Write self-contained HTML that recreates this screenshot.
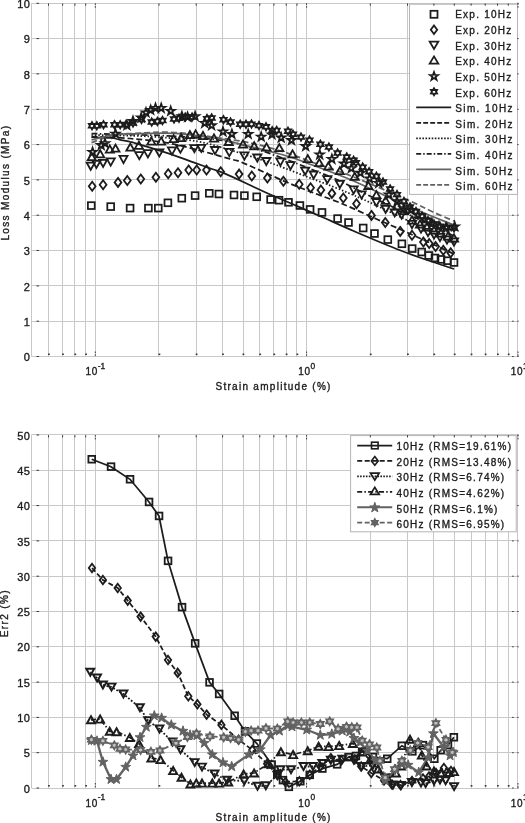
<!DOCTYPE html>
<html lang="en">
<head>
<meta charset="utf-8">
<title>Loss modulus and error versus strain amplitude</title>
<style>
html,body{margin:0;padding:0;background:#fff;}
body{width:525px;height:823px;overflow:hidden;}
svg{display:block;}
.b{filter:blur(0.4px);}
.t{font-family:"Liberation Sans",sans-serif;font-size:10px;fill:#1c1c1c;stroke:#1c1c1c;stroke-width:0.35px;letter-spacing:0.55px;}
.l{letter-spacing:1.24px;}
.m{letter-spacing:1.4px;}
.k{font-size:11px;letter-spacing:0.4px;}
.x{letter-spacing:1.28px;}
.y{letter-spacing:1.35px;}
.s{font-size:8.4px;letter-spacing:0;}
</style>
</head>
<body>
<svg width="525" height="823" viewBox="0 0 525 823">
<rect width="525" height="823" fill="#fff"/>
<g class="b">
</g><g stroke="#c8c8c8" stroke-width="1" fill="none"><line x1="31.5" y1="3.3" x2="31.5" y2="356.5"/><line x1="48.5" y1="3.3" x2="48.5" y2="356.5"/><line x1="62.5" y1="3.3" x2="62.5" y2="356.5"/><line x1="74.5" y1="3.3" x2="74.5" y2="356.5"/><line x1="85.5" y1="3.3" x2="85.5" y2="356.5"/><line x1="95.5" y1="3.3" x2="95.5" y2="356.5"/><line x1="158.5" y1="3.3" x2="158.5" y2="356.5"/><line x1="196.5" y1="3.3" x2="196.5" y2="356.5"/><line x1="222.5" y1="3.3" x2="222.5" y2="356.5"/><line x1="243.5" y1="3.3" x2="243.5" y2="356.5"/><line x1="259.5" y1="3.3" x2="259.5" y2="356.5"/><line x1="273.5" y1="3.3" x2="273.5" y2="356.5"/><line x1="286.5" y1="3.3" x2="286.5" y2="356.5"/><line x1="296.5" y1="3.3" x2="296.5" y2="356.5"/><line x1="306.5" y1="3.3" x2="306.5" y2="356.5"/><line x1="370.5" y1="3.3" x2="370.5" y2="356.5"/><line x1="407.5" y1="3.3" x2="407.5" y2="356.5"/><line x1="433.5" y1="3.3" x2="433.5" y2="356.5"/><line x1="454.5" y1="3.3" x2="454.5" y2="356.5"/><line x1="471.5" y1="3.3" x2="471.5" y2="356.5"/><line x1="485.5" y1="3.3" x2="485.5" y2="356.5"/><line x1="497.5" y1="3.3" x2="497.5" y2="356.5"/><line x1="508.5" y1="3.3" x2="508.5" y2="356.5"/><line x1="517.5" y1="3.3" x2="517.5" y2="356.5"/><line x1="31.5" y1="356.5" x2="517.7" y2="356.5"/><line x1="31.5" y1="321.5" x2="517.7" y2="321.5"/><line x1="31.5" y1="285.5" x2="517.7" y2="285.5"/><line x1="31.5" y1="250.5" x2="517.7" y2="250.5"/><line x1="31.5" y1="215.5" x2="517.7" y2="215.5"/><line x1="31.5" y1="179.5" x2="517.7" y2="179.5"/><line x1="31.5" y1="144.5" x2="517.7" y2="144.5"/><line x1="31.5" y1="109.5" x2="517.7" y2="109.5"/><line x1="31.5" y1="73.5" x2="517.7" y2="73.5"/><line x1="31.5" y1="38.5" x2="517.7" y2="38.5"/><line x1="31.5" y1="3.5" x2="517.7" y2="3.5"/></g><g class="b">
<text x="30.2" y="361.1" text-anchor="end" class="t k">0</text>
<text x="30.2" y="325.8" text-anchor="end" class="t k">1</text>
<text x="30.2" y="290.5" text-anchor="end" class="t k">2</text>
<text x="30.2" y="255.1" text-anchor="end" class="t k">3</text>
<text x="30.2" y="219.8" text-anchor="end" class="t k">4</text>
<text x="30.2" y="184.5" text-anchor="end" class="t k">5</text>
<text x="30.2" y="149.2" text-anchor="end" class="t k">6</text>
<text x="30.2" y="113.9" text-anchor="end" class="t k">7</text>
<text x="30.2" y="78.5" text-anchor="end" class="t k">8</text>
<text x="30.2" y="43.2" text-anchor="end" class="t k">9</text>
<text x="30.2" y="8" text-anchor="end" class="t k">10</text>
<text x="85.6" y="375" class="t">10<tspan dy="-6.2" class="s">-1</tspan></text>
<text x="298.3" y="375" class="t">10<tspan dy="-6.2" class="s">0</tspan></text>
<text x="510.8" y="375" class="t">10<tspan dy="-6.2" class="s">1</tspan></text>
<text x="273.6" y="389.8" text-anchor="middle" class="t x">Strain amplitude (%)</text>
<text transform="translate(8.6,182.6) rotate(-90)" text-anchor="middle" class="t y">Loss Modulus (MPa)</text>
<g fill="none" stroke-width="1.75">
<path d="M91.5 137.3 C94.8 137.4 106.7 137.6 111.3 138 C115.9 138.4 116.1 138.9 119.3 139.6 C122.5 140.3 128.1 141.4 130.7 142 C133.3 142.6 130.2 141.7 135 143.1 C139.8 144.5 151.9 148.2 159.8 150.7 C167.7 153.2 174 155.3 182.6 158.3 C191.2 161.3 204.1 166.2 211.2 168.8 C218.3 171.4 218.6 170.9 225 173.6 C231.4 176.3 241.9 181.3 249.8 185 C257.7 188.7 264 191.7 272.6 195.5 C281.2 199.3 292.5 204.1 301.2 207.9 C309.9 211.7 316.3 214.5 325 218.3 C333.7 222.2 341.1 225.7 353.6 231 C366.1 236.3 387.3 245.3 400 250.3 C412.7 255.3 421 257.9 430 261 C439 264.1 450 267.7 454 269" stroke="#1c1c1c"/>
<path d="M91.5 136.6 C97.9 136.9 116.1 137.2 130 138.5 C143.9 139.8 158.3 141 175 144.4 C191.7 147.8 218.6 155.8 230 158.9 C241.4 162 234.4 159.3 243.6 163.1 C252.8 166.9 273.9 176.8 285 181.5 C296.1 186.2 300.5 187.8 310 191.5 C319.5 195.2 331 199.1 342.1 203.7 C353.2 208.3 365.9 214.4 376.4 219 C386.9 223.6 392.1 225.7 405 231.5 C417.9 237.3 445.8 250.2 454 254" stroke="#1c1c1c" stroke-dasharray="6 3"/>
<path d="M91.5 135 C101.2 135.2 132.3 135.4 150 136.5 C167.7 137.6 184.6 139.2 197.9 141.5 C211.2 143.8 218.6 146.7 230 150 C241.4 153.3 257.2 158.4 266.4 161.5 C275.6 164.6 277.7 165.6 285 168.3 C292.3 171 301.2 174.5 310 177.9 C318.8 181.3 326.5 183.9 337.6 188.5 C348.7 193.1 357 196.4 376.4 205.5 C395.8 214.6 441.1 236.8 454 243" stroke="#1c1c1c" stroke-dasharray="1.5 2"/>
<path d="M91.5 133.6 C102.9 133.9 139.2 134.5 160 135.5 C180.8 136.5 201 137.6 216 139.5 C231 141.4 238.5 143.8 250 147 C261.5 150.2 275 155.4 285 159 C295 162.6 300.8 165.1 310 168.8 C319.2 172.5 329 176 340 181 C351 186 357 189.8 376 199 C395 208.2 441 229.8 454 236" stroke="#1c1c1c" stroke-dasharray="6 2.5 1.5 2.5"/>
<path d="M91.5 140 C95.1 139.1 106.2 135.8 113 134.8 C119.8 133.8 121.7 134 132 133.8 C142.3 133.6 160.2 132.5 175 133.4 C189.8 134.3 211.5 137.8 220.7 139.1 C229.9 140.4 219.3 138.8 230 141.5 C240.7 144.2 271.7 151.7 285 155.5 C298.3 159.3 298.6 159.9 310 164.2 C321.4 168.4 337.8 174.2 353.6 181 C369.4 187.8 388.1 197.6 405 205 C421.9 212.4 446.6 222.1 454.9 225.5" stroke="#626262"/>
<path d="M91.5 142.6 C95.1 141.4 106.2 136.7 113 135.2 C119.8 133.7 121.7 133.9 132 133.5 C142.3 133.1 158.7 131.5 175 132.5 C191.3 133.5 216.7 137.6 230 139.5 C243.3 141.4 245.8 141.9 255 144 C264.2 146.1 275 149.1 285 152.3 C295 155.5 304.2 159.3 315 163.2 C325.8 167.1 334.6 169.4 350 175.5 C365.4 181.6 393.9 193.9 407.7 200 C421.5 206.1 425 208.4 432.9 212 C440.8 215.6 451.2 219.8 454.9 221.4" stroke="#626262" stroke-dasharray="6 3"/>
</g>
<rect x="87.9" y="202.2" width="6.8" height="6.8" fill="none" stroke="#1c1c1c" stroke-width="1.75"/>
<rect x="107.3" y="203.2" width="6.8" height="6.8" fill="none" stroke="#1c1c1c" stroke-width="1.75"/>
<rect x="126.7" y="204.7" width="6.8" height="6.8" fill="none" stroke="#1c1c1c" stroke-width="1.75"/>
<rect x="145" y="204.7" width="6.8" height="6.8" fill="none" stroke="#1c1c1c" stroke-width="1.75"/>
<rect x="154.9" y="204.7" width="6.8" height="6.8" fill="none" stroke="#1c1c1c" stroke-width="1.75"/>
<rect x="164.5" y="199.4" width="6.8" height="6.8" fill="none" stroke="#1c1c1c" stroke-width="1.75"/>
<rect x="178.4" y="194.8" width="6.8" height="6.8" fill="none" stroke="#1c1c1c" stroke-width="1.75"/>
<rect x="191.7" y="192.2" width="6.8" height="6.8" fill="none" stroke="#1c1c1c" stroke-width="1.75"/>
<rect x="205.9" y="189.9" width="6.8" height="6.8" fill="none" stroke="#1c1c1c" stroke-width="1.75"/>
<rect x="215.5" y="190.6" width="6.8" height="6.8" fill="none" stroke="#1c1c1c" stroke-width="1.75"/>
<rect x="230.6" y="191.6" width="6.8" height="6.8" fill="none" stroke="#1c1c1c" stroke-width="1.75"/>
<rect x="241" y="192.2" width="6.8" height="6.8" fill="none" stroke="#1c1c1c" stroke-width="1.75"/>
<rect x="253.3" y="193.4" width="6.8" height="6.8" fill="none" stroke="#1c1c1c" stroke-width="1.75"/>
<rect x="267.2" y="196.1" width="6.8" height="6.8" fill="none" stroke="#1c1c1c" stroke-width="1.75"/>
<rect x="275.6" y="196.8" width="6.8" height="6.8" fill="none" stroke="#1c1c1c" stroke-width="1.75"/>
<rect x="285.1" y="198.9" width="6.8" height="6.8" fill="none" stroke="#1c1c1c" stroke-width="1.75"/>
<rect x="296.5" y="202.1" width="6.8" height="6.8" fill="none" stroke="#1c1c1c" stroke-width="1.75"/>
<rect x="306.7" y="206" width="6.8" height="6.8" fill="none" stroke="#1c1c1c" stroke-width="1.75"/>
<rect x="318.6" y="209" width="6.8" height="6.8" fill="none" stroke="#1c1c1c" stroke-width="1.75"/>
<rect x="334.2" y="215.2" width="6.8" height="6.8" fill="none" stroke="#1c1c1c" stroke-width="1.75"/>
<rect x="345.1" y="219.1" width="6.8" height="6.8" fill="none" stroke="#1c1c1c" stroke-width="1.75"/>
<rect x="359.8" y="224.6" width="6.8" height="6.8" fill="none" stroke="#1c1c1c" stroke-width="1.75"/>
<rect x="371.1" y="230.1" width="6.8" height="6.8" fill="none" stroke="#1c1c1c" stroke-width="1.75"/>
<rect x="384.4" y="236.2" width="6.8" height="6.8" fill="none" stroke="#1c1c1c" stroke-width="1.75"/>
<rect x="398.5" y="240.4" width="6.8" height="6.8" fill="none" stroke="#1c1c1c" stroke-width="1.75"/>
<rect x="408.8" y="245.2" width="6.8" height="6.8" fill="none" stroke="#1c1c1c" stroke-width="1.75"/>
<rect x="418.3" y="248.6" width="6.8" height="6.8" fill="none" stroke="#1c1c1c" stroke-width="1.75"/>
<rect x="425.3" y="252.1" width="6.8" height="6.8" fill="none" stroke="#1c1c1c" stroke-width="1.75"/>
<rect x="431.6" y="254.6" width="6.8" height="6.8" fill="none" stroke="#1c1c1c" stroke-width="1.75"/>
<rect x="437.6" y="256" width="6.8" height="6.8" fill="none" stroke="#1c1c1c" stroke-width="1.75"/>
<rect x="444" y="257.3" width="6.8" height="6.8" fill="none" stroke="#1c1c1c" stroke-width="1.75"/>
<rect x="450.6" y="259.1" width="6.8" height="6.8" fill="none" stroke="#1c1c1c" stroke-width="1.75"/>
<polygon points="92.2,181.7 95.6,186.2 92.2,190.7 88.8,186.2" fill="none" stroke="#1c1c1c" stroke-width="1.8" stroke-linejoin="miter" stroke-miterlimit="6"/>
<polygon points="103.1,180.2 106.5,184.7 103.1,189.2 99.7,184.7" fill="none" stroke="#1c1c1c" stroke-width="1.8" stroke-linejoin="miter" stroke-miterlimit="6"/>
<polygon points="118,177.9 121.4,182.4 118,186.9 114.6,182.4" fill="none" stroke="#1c1c1c" stroke-width="1.8" stroke-linejoin="miter" stroke-miterlimit="6"/>
<polygon points="127.3,176 130.7,180.5 127.3,185 123.9,180.5" fill="none" stroke="#1c1c1c" stroke-width="1.8" stroke-linejoin="miter" stroke-miterlimit="6"/>
<polygon points="140.8,174.5 144.2,179 140.8,183.5 137.4,179" fill="none" stroke="#1c1c1c" stroke-width="1.8" stroke-linejoin="miter" stroke-miterlimit="6"/>
<polygon points="155.9,172.7 159.3,177.2 155.9,181.7 152.5,177.2" fill="none" stroke="#1c1c1c" stroke-width="1.8" stroke-linejoin="miter" stroke-miterlimit="6"/>
<polygon points="168.2,169.3 171.6,173.8 168.2,178.3 164.8,173.8" fill="none" stroke="#1c1c1c" stroke-width="1.8" stroke-linejoin="miter" stroke-miterlimit="6"/>
<polygon points="178,168.3 181.4,172.8 178,177.3 174.6,172.8" fill="none" stroke="#1c1c1c" stroke-width="1.8" stroke-linejoin="miter" stroke-miterlimit="6"/>
<polygon points="188.7,165.5 192.1,170 188.7,174.5 185.3,170" fill="none" stroke="#1c1c1c" stroke-width="1.8" stroke-linejoin="miter" stroke-miterlimit="6"/>
<polygon points="196.7,165.5 200.1,170 196.7,174.5 193.3,170" fill="none" stroke="#1c1c1c" stroke-width="1.8" stroke-linejoin="miter" stroke-miterlimit="6"/>
<polygon points="206.5,165.5 209.9,170 206.5,174.5 203.1,170" fill="none" stroke="#1c1c1c" stroke-width="1.8" stroke-linejoin="miter" stroke-miterlimit="6"/>
<polygon points="220.7,167.3 224.1,171.8 220.7,176.3 217.3,171.8" fill="none" stroke="#1c1c1c" stroke-width="1.8" stroke-linejoin="miter" stroke-miterlimit="6"/>
<polygon points="239.1,169.6 242.5,174.1 239.1,178.6 235.7,174.1" fill="none" stroke="#1c1c1c" stroke-width="1.8" stroke-linejoin="miter" stroke-miterlimit="6"/>
<polygon points="251.8,171.5 255.2,176 251.8,180.5 248.4,176" fill="none" stroke="#1c1c1c" stroke-width="1.8" stroke-linejoin="miter" stroke-miterlimit="6"/>
<polygon points="267.4,173.5 270.8,178 267.4,182.5 264,178" fill="none" stroke="#1c1c1c" stroke-width="1.8" stroke-linejoin="miter" stroke-miterlimit="6"/>
<polygon points="283.4,176.7 286.8,181.2 283.4,185.7 280,181.2" fill="none" stroke="#1c1c1c" stroke-width="1.8" stroke-linejoin="miter" stroke-miterlimit="6"/>
<polygon points="299.2,179.7 302.6,184.2 299.2,188.7 295.8,184.2" fill="none" stroke="#1c1c1c" stroke-width="1.8" stroke-linejoin="miter" stroke-miterlimit="6"/>
<polygon points="310.6,183.2 314,187.7 310.6,192.2 307.2,187.7" fill="none" stroke="#1c1c1c" stroke-width="1.8" stroke-linejoin="miter" stroke-miterlimit="6"/>
<polygon points="320.9,185.5 324.3,190 320.9,194.5 317.5,190" fill="none" stroke="#1c1c1c" stroke-width="1.8" stroke-linejoin="miter" stroke-miterlimit="6"/>
<polygon points="331.9,188.9 335.3,193.4 331.9,197.9 328.5,193.4" fill="none" stroke="#1c1c1c" stroke-width="1.8" stroke-linejoin="miter" stroke-miterlimit="6"/>
<polygon points="343.3,193.5 346.7,198 343.3,202.5 339.9,198" fill="none" stroke="#1c1c1c" stroke-width="1.8" stroke-linejoin="miter" stroke-miterlimit="6"/>
<polygon points="356.5,199.2 359.9,203.7 356.5,208.2 353.1,203.7" fill="none" stroke="#1c1c1c" stroke-width="1.8" stroke-linejoin="miter" stroke-miterlimit="6"/>
<polygon points="371.5,210.9 374.9,215.4 371.5,219.9 368.1,215.4" fill="none" stroke="#1c1c1c" stroke-width="1.8" stroke-linejoin="miter" stroke-miterlimit="6"/>
<polygon points="385.3,218 388.7,222.5 385.3,227 381.9,222.5" fill="none" stroke="#1c1c1c" stroke-width="1.8" stroke-linejoin="miter" stroke-miterlimit="6"/>
<polygon points="400.2,226.9 403.6,231.4 400.2,235.9 396.8,231.4" fill="none" stroke="#1c1c1c" stroke-width="1.8" stroke-linejoin="miter" stroke-miterlimit="6"/>
<polygon points="412,230.8 415.4,235.3 412,239.8 408.6,235.3" fill="none" stroke="#1c1c1c" stroke-width="1.8" stroke-linejoin="miter" stroke-miterlimit="6"/>
<polygon points="423.4,237.6 426.8,242.1 423.4,246.6 420,242.1" fill="none" stroke="#1c1c1c" stroke-width="1.8" stroke-linejoin="miter" stroke-miterlimit="6"/>
<polygon points="429.2,239 432.6,243.5 429.2,248 425.8,243.5" fill="none" stroke="#1c1c1c" stroke-width="1.8" stroke-linejoin="miter" stroke-miterlimit="6"/>
<polygon points="435.6,242.1 439,246.6 435.6,251.1 432.2,246.6" fill="none" stroke="#1c1c1c" stroke-width="1.8" stroke-linejoin="miter" stroke-miterlimit="6"/>
<polygon points="443.3,245.7 446.7,250.2 443.3,254.7 439.9,250.2" fill="none" stroke="#1c1c1c" stroke-width="1.8" stroke-linejoin="miter" stroke-miterlimit="6"/>
<polygon points="450.7,248.2 454.1,252.7 450.7,257.2 447.3,252.7" fill="none" stroke="#1c1c1c" stroke-width="1.8" stroke-linejoin="miter" stroke-miterlimit="6"/>
<polygon points="86.7,162.6 94.8,162.6 90.7,169.8" fill="none" stroke="#1c1c1c" stroke-width="1.8" stroke-linejoin="miter" stroke-miterlimit="6"/>
<polygon points="92.4,160.8 100.5,160.8 96.4,167.9" fill="none" stroke="#1c1c1c" stroke-width="1.8" stroke-linejoin="miter" stroke-miterlimit="6"/>
<polygon points="99,159.8 107.1,159.8 103.1,166.9" fill="none" stroke="#1c1c1c" stroke-width="1.8" stroke-linejoin="miter" stroke-miterlimit="6"/>
<polygon points="106.7,158.4 114.8,158.4 110.7,165.6" fill="none" stroke="#1c1c1c" stroke-width="1.8" stroke-linejoin="miter" stroke-miterlimit="6"/>
<polygon points="119.5,155.9 127.5,155.9 123.5,163.1" fill="none" stroke="#1c1c1c" stroke-width="1.8" stroke-linejoin="miter" stroke-miterlimit="6"/>
<polygon points="135.2,152.1 143.4,152.1 139.3,159.2" fill="none" stroke="#1c1c1c" stroke-width="1.8" stroke-linejoin="miter" stroke-miterlimit="6"/>
<polygon points="143.8,150.2 152,150.2 147.9,157.4" fill="none" stroke="#1c1c1c" stroke-width="1.8" stroke-linejoin="miter" stroke-miterlimit="6"/>
<polygon points="155.2,149.3 163.4,149.3 159.3,156.5" fill="none" stroke="#1c1c1c" stroke-width="1.8" stroke-linejoin="miter" stroke-miterlimit="6"/>
<polygon points="167.9,147.4 176.1,147.4 172,154.6" fill="none" stroke="#1c1c1c" stroke-width="1.8" stroke-linejoin="miter" stroke-miterlimit="6"/>
<polygon points="176.3,145.6 184.5,145.6 180.4,152.8" fill="none" stroke="#1c1c1c" stroke-width="1.8" stroke-linejoin="miter" stroke-miterlimit="6"/>
<polygon points="190.3,145.1 198.5,145.1 194.4,152.2" fill="none" stroke="#1c1c1c" stroke-width="1.8" stroke-linejoin="miter" stroke-miterlimit="6"/>
<polygon points="197.2,144.8 205.4,144.8 201.3,151.9" fill="none" stroke="#1c1c1c" stroke-width="1.8" stroke-linejoin="miter" stroke-miterlimit="6"/>
<polygon points="210.9,147 219.1,147 215,154.2" fill="none" stroke="#1c1c1c" stroke-width="1.8" stroke-linejoin="miter" stroke-miterlimit="6"/>
<polygon points="225.2,148.9 233.4,148.9 229.3,156.1" fill="none" stroke="#1c1c1c" stroke-width="1.8" stroke-linejoin="miter" stroke-miterlimit="6"/>
<polygon points="240.3,152.4 248.5,152.4 244.4,159.6" fill="none" stroke="#1c1c1c" stroke-width="1.8" stroke-linejoin="miter" stroke-miterlimit="6"/>
<polygon points="253.2,154.5 261.4,154.5 257.3,161.7" fill="none" stroke="#1c1c1c" stroke-width="1.8" stroke-linejoin="miter" stroke-miterlimit="6"/>
<polygon points="262.2,158 270.4,158 266.3,165.2" fill="none" stroke="#1c1c1c" stroke-width="1.8" stroke-linejoin="miter" stroke-miterlimit="6"/>
<polygon points="276.3,158.4 284.4,158.4 280.4,165.6" fill="none" stroke="#1c1c1c" stroke-width="1.8" stroke-linejoin="miter" stroke-miterlimit="6"/>
<polygon points="286.4,162.2 294.6,162.2 290.5,169.4" fill="none" stroke="#1c1c1c" stroke-width="1.8" stroke-linejoin="miter" stroke-miterlimit="6"/>
<polygon points="301.1,167.6 309.2,167.6 305.2,174.8" fill="none" stroke="#1c1c1c" stroke-width="1.8" stroke-linejoin="miter" stroke-miterlimit="6"/>
<polygon points="309.6,171.5 317.7,171.5 313.6,178.7" fill="none" stroke="#1c1c1c" stroke-width="1.8" stroke-linejoin="miter" stroke-miterlimit="6"/>
<polygon points="323.2,176.1 331.4,176.1 327.3,183.2" fill="none" stroke="#1c1c1c" stroke-width="1.8" stroke-linejoin="miter" stroke-miterlimit="6"/>
<polygon points="335.8,180.8 343.9,180.8 339.9,187.9" fill="none" stroke="#1c1c1c" stroke-width="1.8" stroke-linejoin="miter" stroke-miterlimit="6"/>
<polygon points="349.6,186.4 357.7,186.4 353.6,193.6" fill="none" stroke="#1c1c1c" stroke-width="1.8" stroke-linejoin="miter" stroke-miterlimit="6"/>
<polygon points="357.6,191.4 365.7,191.4 361.6,198.6" fill="none" stroke="#1c1c1c" stroke-width="1.8" stroke-linejoin="miter" stroke-miterlimit="6"/>
<polygon points="372.3,199 380.4,199 376.4,206.2" fill="none" stroke="#1c1c1c" stroke-width="1.8" stroke-linejoin="miter" stroke-miterlimit="6"/>
<polygon points="381.6,205.8 389.7,205.8 385.6,213" fill="none" stroke="#1c1c1c" stroke-width="1.8" stroke-linejoin="miter" stroke-miterlimit="6"/>
<polygon points="390.6,209.3 398.8,209.3 394.7,216.5" fill="none" stroke="#1c1c1c" stroke-width="1.8" stroke-linejoin="miter" stroke-miterlimit="6"/>
<polygon points="397.6,211.5 405.7,211.5 401.6,218.7" fill="none" stroke="#1c1c1c" stroke-width="1.8" stroke-linejoin="miter" stroke-miterlimit="6"/>
<polygon points="407.9,220.9 416.1,220.9 412,228.1" fill="none" stroke="#1c1c1c" stroke-width="1.8" stroke-linejoin="miter" stroke-miterlimit="6"/>
<polygon points="416.9,225.4 425.1,225.4 421,232.6" fill="none" stroke="#1c1c1c" stroke-width="1.8" stroke-linejoin="miter" stroke-miterlimit="6"/>
<polygon points="423.9,228.9 432.1,228.9 428,236.1" fill="none" stroke="#1c1c1c" stroke-width="1.8" stroke-linejoin="miter" stroke-miterlimit="6"/>
<polygon points="429.9,231.4 438.1,231.4 434,238.6" fill="none" stroke="#1c1c1c" stroke-width="1.8" stroke-linejoin="miter" stroke-miterlimit="6"/>
<polygon points="435.9,233.9 444.1,233.9 440,241.1" fill="none" stroke="#1c1c1c" stroke-width="1.8" stroke-linejoin="miter" stroke-miterlimit="6"/>
<polygon points="442.9,236.4 451.1,236.4 447,243.6" fill="none" stroke="#1c1c1c" stroke-width="1.8" stroke-linejoin="miter" stroke-miterlimit="6"/>
<polygon points="449.9,238.4 458.1,238.4 454,245.6" fill="none" stroke="#1c1c1c" stroke-width="1.8" stroke-linejoin="miter" stroke-miterlimit="6"/>
<polygon points="87.7,160.2 95.8,160.2 91.7,153.1" fill="none" stroke="#1c1c1c" stroke-width="1.8" stroke-linejoin="miter" stroke-miterlimit="6"/>
<polygon points="96.2,157.4 104.2,157.4 100.2,150.2" fill="none" stroke="#1c1c1c" stroke-width="1.8" stroke-linejoin="miter" stroke-miterlimit="6"/>
<polygon points="105.8,152.6 113.8,152.6 109.8,145.4" fill="none" stroke="#1c1c1c" stroke-width="1.8" stroke-linejoin="miter" stroke-miterlimit="6"/>
<polygon points="111.5,151.7 119.5,151.7 115.5,144.5" fill="none" stroke="#1c1c1c" stroke-width="1.8" stroke-linejoin="miter" stroke-miterlimit="6"/>
<polygon points="126.3,150.7 134.4,150.7 130.3,143.5" fill="none" stroke="#1c1c1c" stroke-width="1.8" stroke-linejoin="miter" stroke-miterlimit="6"/>
<polygon points="134.8,148.8 143,148.8 138.9,141.6" fill="none" stroke="#1c1c1c" stroke-width="1.8" stroke-linejoin="miter" stroke-miterlimit="6"/>
<polygon points="147.2,144.6 155.4,144.6 151.3,137.4" fill="none" stroke="#1c1c1c" stroke-width="1.8" stroke-linejoin="miter" stroke-miterlimit="6"/>
<polygon points="157.1,144.6 165.2,144.6 161.2,137.4" fill="none" stroke="#1c1c1c" stroke-width="1.8" stroke-linejoin="miter" stroke-miterlimit="6"/>
<polygon points="169.5,142.2 177.7,142.2 173.6,135" fill="none" stroke="#1c1c1c" stroke-width="1.8" stroke-linejoin="miter" stroke-miterlimit="6"/>
<polygon points="177.1,141.2 185.2,141.2 181.2,134" fill="none" stroke="#1c1c1c" stroke-width="1.8" stroke-linejoin="miter" stroke-miterlimit="6"/>
<polygon points="185.8,138.2 194,138.2 189.9,131" fill="none" stroke="#1c1c1c" stroke-width="1.8" stroke-linejoin="miter" stroke-miterlimit="6"/>
<polygon points="191.5,137.5 199.7,137.5 195.6,130.3" fill="none" stroke="#1c1c1c" stroke-width="1.8" stroke-linejoin="miter" stroke-miterlimit="6"/>
<polygon points="198.9,139.1 207.1,139.1 203,131.9" fill="none" stroke="#1c1c1c" stroke-width="1.8" stroke-linejoin="miter" stroke-miterlimit="6"/>
<polygon points="209.9,141.6 218.1,141.6 214,134.4" fill="none" stroke="#1c1c1c" stroke-width="1.8" stroke-linejoin="miter" stroke-miterlimit="6"/>
<polygon points="224.6,145 232.8,145 228.7,137.8" fill="none" stroke="#1c1c1c" stroke-width="1.8" stroke-linejoin="miter" stroke-miterlimit="6"/>
<polygon points="238.9,147.6 247.1,147.6 243,140.4" fill="none" stroke="#1c1c1c" stroke-width="1.8" stroke-linejoin="miter" stroke-miterlimit="6"/>
<polygon points="250.1,149.4 258.2,149.4 254.2,142.2" fill="none" stroke="#1c1c1c" stroke-width="1.8" stroke-linejoin="miter" stroke-miterlimit="6"/>
<polygon points="262.4,150.6 270.6,150.6 266.5,143.4" fill="none" stroke="#1c1c1c" stroke-width="1.8" stroke-linejoin="miter" stroke-miterlimit="6"/>
<polygon points="275.2,151.2 283.4,151.2 279.3,144.1" fill="none" stroke="#1c1c1c" stroke-width="1.8" stroke-linejoin="miter" stroke-miterlimit="6"/>
<polygon points="288.4,157.4 296.6,157.4 292.5,150.2" fill="none" stroke="#1c1c1c" stroke-width="1.8" stroke-linejoin="miter" stroke-miterlimit="6"/>
<polygon points="303.8,162.2 311.9,162.2 307.8,155.1" fill="none" stroke="#1c1c1c" stroke-width="1.8" stroke-linejoin="miter" stroke-miterlimit="6"/>
<polygon points="315.2,166.2 323.4,166.2 319.3,159" fill="none" stroke="#1c1c1c" stroke-width="1.8" stroke-linejoin="miter" stroke-miterlimit="6"/>
<polygon points="324.3,169.6 332.4,169.6 328.4,162.4" fill="none" stroke="#1c1c1c" stroke-width="1.8" stroke-linejoin="miter" stroke-miterlimit="6"/>
<polygon points="335.8,174.2 343.9,174.2 339.9,167" fill="none" stroke="#1c1c1c" stroke-width="1.8" stroke-linejoin="miter" stroke-miterlimit="6"/>
<polygon points="350.6,179.9 358.8,179.9 354.7,172.8" fill="none" stroke="#1c1c1c" stroke-width="1.8" stroke-linejoin="miter" stroke-miterlimit="6"/>
<polygon points="364.3,189 372.4,189 368.4,181.8" fill="none" stroke="#1c1c1c" stroke-width="1.8" stroke-linejoin="miter" stroke-miterlimit="6"/>
<polygon points="372.3,198.2 380.4,198.2 376.4,191" fill="none" stroke="#1c1c1c" stroke-width="1.8" stroke-linejoin="miter" stroke-miterlimit="6"/>
<polygon points="381.6,203.9 389.7,203.9 385.6,196.8" fill="none" stroke="#1c1c1c" stroke-width="1.8" stroke-linejoin="miter" stroke-miterlimit="6"/>
<polygon points="392.9,209.6 401.1,209.6 397,202.4" fill="none" stroke="#1c1c1c" stroke-width="1.8" stroke-linejoin="miter" stroke-miterlimit="6"/>
<polygon points="399.8,214.2 407.9,214.2 403.9,207" fill="none" stroke="#1c1c1c" stroke-width="1.8" stroke-linejoin="miter" stroke-miterlimit="6"/>
<polygon points="407.9,223.6 416.1,223.6 412,216.4" fill="none" stroke="#1c1c1c" stroke-width="1.8" stroke-linejoin="miter" stroke-miterlimit="6"/>
<polygon points="415.9,227.6 424.1,227.6 420,220.4" fill="none" stroke="#1c1c1c" stroke-width="1.8" stroke-linejoin="miter" stroke-miterlimit="6"/>
<polygon points="422.9,230.6 431.1,230.6 427,223.4" fill="none" stroke="#1c1c1c" stroke-width="1.8" stroke-linejoin="miter" stroke-miterlimit="6"/>
<polygon points="429.9,233.6 438.1,233.6 434,226.4" fill="none" stroke="#1c1c1c" stroke-width="1.8" stroke-linejoin="miter" stroke-miterlimit="6"/>
<polygon points="436.9,236.6 445.1,236.6 441,229.4" fill="none" stroke="#1c1c1c" stroke-width="1.8" stroke-linejoin="miter" stroke-miterlimit="6"/>
<polygon points="443.9,239.6 452.1,239.6 448,232.4" fill="none" stroke="#1c1c1c" stroke-width="1.8" stroke-linejoin="miter" stroke-miterlimit="6"/>
<polygon points="449.9,241.6 458.1,241.6 454,234.4" fill="none" stroke="#1c1c1c" stroke-width="1.8" stroke-linejoin="miter" stroke-miterlimit="6"/>
<polygon points="92.6,147.7 93.6,150.6 96.7,150.7 94.2,152.5 95.1,155.5 92.6,153.7 90.1,155.5 91,152.5 88.5,150.7 91.6,150.6" fill="none" stroke="#1c1c1c" stroke-width="1.8" stroke-linejoin="miter" stroke-miterlimit="6"/>
<polygon points="101.2,140.9 102.2,143.8 105.3,143.9 102.8,145.7 103.7,148.7 101.2,146.9 98.7,148.7 99.6,145.7 97.1,143.9 100.2,143.8" fill="none" stroke="#1c1c1c" stroke-width="1.8" stroke-linejoin="miter" stroke-miterlimit="6"/>
<polygon points="105,139 106,141.9 109.1,142 106.6,143.8 107.5,146.8 105,145 102.5,146.8 103.4,143.8 100.9,142 104,141.9" fill="none" stroke="#1c1c1c" stroke-width="1.8" stroke-linejoin="miter" stroke-miterlimit="6"/>
<polygon points="115.5,129.5 116.5,132.4 119.6,132.5 117.1,134.3 118,137.3 115.5,135.5 113,137.3 113.9,134.3 111.4,132.5 114.5,132.4" fill="none" stroke="#1c1c1c" stroke-width="1.8" stroke-linejoin="miter" stroke-miterlimit="6"/>
<polygon points="126.9,120.9 127.9,123.8 131,123.9 128.5,125.7 129.4,128.7 126.9,126.9 124.4,128.7 125.3,125.7 122.8,123.9 125.9,123.8" fill="none" stroke="#1c1c1c" stroke-width="1.8" stroke-linejoin="miter" stroke-miterlimit="6"/>
<polygon points="133,116.7 134,119.6 137.1,119.7 134.6,121.5 135.5,124.5 133,122.7 130.5,124.5 131.4,121.5 128.9,119.7 132,119.6" fill="none" stroke="#1c1c1c" stroke-width="1.8" stroke-linejoin="miter" stroke-miterlimit="6"/>
<polygon points="141.2,113.3 142.2,116.2 145.3,116.3 142.8,118.1 143.7,121.1 141.2,119.3 138.7,121.1 139.6,118.1 137.1,116.3 140.2,116.2" fill="none" stroke="#1c1c1c" stroke-width="1.8" stroke-linejoin="miter" stroke-miterlimit="6"/>
<polygon points="146,108.2 147,111.1 150.1,111.2 147.6,113 148.5,116 146,114.2 143.5,116 144.4,113 141.9,111.2 145,111.1" fill="none" stroke="#1c1c1c" stroke-width="1.8" stroke-linejoin="miter" stroke-miterlimit="6"/>
<polygon points="150.7,105.7 151.7,108.6 154.8,108.7 152.3,110.5 153.2,113.5 150.7,111.7 148.2,113.5 149.1,110.5 146.6,108.7 149.7,108.6" fill="none" stroke="#1c1c1c" stroke-width="1.8" stroke-linejoin="miter" stroke-miterlimit="6"/>
<polygon points="155.5,103.8 156.5,106.7 159.6,106.8 157.1,108.6 158,111.6 155.5,109.8 153,111.6 153.9,108.6 151.4,106.8 154.5,106.7" fill="none" stroke="#1c1c1c" stroke-width="1.8" stroke-linejoin="miter" stroke-miterlimit="6"/>
<polygon points="161.2,103.8 162.2,106.7 165.3,106.8 162.8,108.6 163.7,111.6 161.2,109.8 158.7,111.6 159.6,108.6 157.1,106.8 160.2,106.7" fill="none" stroke="#1c1c1c" stroke-width="1.8" stroke-linejoin="miter" stroke-miterlimit="6"/>
<polygon points="170.7,106.7 171.7,109.6 174.8,109.7 172.3,111.5 173.2,114.5 170.7,112.7 168.2,114.5 169.1,111.5 166.6,109.7 169.7,109.6" fill="none" stroke="#1c1c1c" stroke-width="1.8" stroke-linejoin="miter" stroke-miterlimit="6"/>
<polygon points="181.9,112 182.9,114.9 186,115 183.5,116.8 184.4,119.8 181.9,118 179.4,119.8 180.3,116.8 177.8,115 180.9,114.9" fill="none" stroke="#1c1c1c" stroke-width="1.8" stroke-linejoin="miter" stroke-miterlimit="6"/>
<polygon points="187.6,112.7 188.6,115.6 191.7,115.7 189.2,117.5 190.1,120.5 187.6,118.7 185.1,120.5 186,117.5 183.5,115.7 186.6,115.6" fill="none" stroke="#1c1c1c" stroke-width="1.8" stroke-linejoin="miter" stroke-miterlimit="6"/>
<polygon points="195.1,112 196.1,114.9 199.2,115 196.7,116.8 197.6,119.8 195.1,118 192.6,119.8 193.5,116.8 191,115 194.1,114.9" fill="none" stroke="#1c1c1c" stroke-width="1.8" stroke-linejoin="miter" stroke-miterlimit="6"/>
<polygon points="204.7,118.8 205.7,121.7 208.8,121.8 206.3,123.6 207.2,126.6 204.7,124.8 202.2,126.6 203.1,123.6 200.6,121.8 203.7,121.7" fill="none" stroke="#1c1c1c" stroke-width="1.8" stroke-linejoin="miter" stroke-miterlimit="6"/>
<polygon points="211.6,121.1 212.6,124 215.7,124.1 213.2,125.9 214.1,128.9 211.6,127.1 209.1,128.9 210,125.9 207.5,124.1 210.6,124" fill="none" stroke="#1c1c1c" stroke-width="1.8" stroke-linejoin="miter" stroke-miterlimit="6"/>
<polygon points="223,127.3 224,130.2 227.1,130.3 224.6,132.1 225.5,135.1 223,133.3 220.5,135.1 221.4,132.1 218.9,130.3 222,130.2" fill="none" stroke="#1c1c1c" stroke-width="1.8" stroke-linejoin="miter" stroke-miterlimit="6"/>
<polygon points="231.9,129.7 232.9,132.6 236,132.7 233.5,134.5 234.4,137.5 231.9,135.7 229.4,137.5 230.3,134.5 227.8,132.7 230.9,132.6" fill="none" stroke="#1c1c1c" stroke-width="1.8" stroke-linejoin="miter" stroke-miterlimit="6"/>
<polygon points="248.2,129.7 249.2,132.6 252.3,132.7 249.8,134.5 250.7,137.5 248.2,135.7 245.7,137.5 246.6,134.5 244.1,132.7 247.2,132.6" fill="none" stroke="#1c1c1c" stroke-width="1.8" stroke-linejoin="miter" stroke-miterlimit="6"/>
<polygon points="261.2,132.5 262.2,135.4 265.3,135.5 262.8,137.3 263.7,140.3 261.2,138.5 258.7,140.3 259.6,137.3 257.1,135.5 260.2,135.4" fill="none" stroke="#1c1c1c" stroke-width="1.8" stroke-linejoin="miter" stroke-miterlimit="6"/>
<polygon points="272,130.2 273,133.1 276.1,133.2 273.6,135 274.5,138 272,136.2 269.5,138 270.4,135 267.9,133.2 271,133.1" fill="none" stroke="#1c1c1c" stroke-width="1.8" stroke-linejoin="miter" stroke-miterlimit="6"/>
<polygon points="281.2,133.4 282.2,136.3 285.3,136.4 282.8,138.2 283.7,141.2 281.2,139.4 278.7,141.2 279.6,138.2 277.1,136.4 280.2,136.3" fill="none" stroke="#1c1c1c" stroke-width="1.8" stroke-linejoin="miter" stroke-miterlimit="6"/>
<polygon points="291.5,135.9 292.5,138.8 295.6,138.9 293.1,140.7 294,143.7 291.5,141.9 289,143.7 289.9,140.7 287.4,138.9 290.5,138.8" fill="none" stroke="#1c1c1c" stroke-width="1.8" stroke-linejoin="miter" stroke-miterlimit="6"/>
<polygon points="305.7,141.9 306.7,144.8 309.8,144.9 307.3,146.7 308.2,149.7 305.7,147.9 303.2,149.7 304.1,146.7 301.6,144.9 304.7,144.8" fill="none" stroke="#1c1c1c" stroke-width="1.8" stroke-linejoin="miter" stroke-miterlimit="6"/>
<polygon points="319.7,150.3 320.7,153.2 323.8,153.3 321.3,155.1 322.2,158.1 319.7,156.3 317.2,158.1 318.1,155.1 315.6,153.3 318.7,153.2" fill="none" stroke="#1c1c1c" stroke-width="1.8" stroke-linejoin="miter" stroke-miterlimit="6"/>
<polygon points="331.9,154.8 332.9,157.7 336,157.8 333.5,159.6 334.4,162.6 331.9,160.8 329.4,162.6 330.3,159.6 327.8,157.8 330.9,157.7" fill="none" stroke="#1c1c1c" stroke-width="1.8" stroke-linejoin="miter" stroke-miterlimit="6"/>
<polygon points="344,159.4 345,162.3 348.1,162.4 345.6,164.2 346.5,167.2 344,165.4 341.5,167.2 342.4,164.2 339.9,162.4 343,162.3" fill="none" stroke="#1c1c1c" stroke-width="1.8" stroke-linejoin="miter" stroke-miterlimit="6"/>
<polygon points="351.3,164 352.3,166.9 355.4,167 352.9,168.8 353.8,171.8 351.3,170 348.8,171.8 349.7,168.8 347.2,167 350.3,166.9" fill="none" stroke="#1c1c1c" stroke-width="1.8" stroke-linejoin="miter" stroke-miterlimit="6"/>
<polygon points="360.4,168.6 361.4,171.5 364.5,171.6 362,173.4 362.9,176.4 360.4,174.6 357.9,176.4 358.8,173.4 356.3,171.6 359.4,171.5" fill="none" stroke="#1c1c1c" stroke-width="1.8" stroke-linejoin="miter" stroke-miterlimit="6"/>
<polygon points="369.6,174.3 370.6,177.2 373.7,177.3 371.2,179.1 372.1,182.1 369.6,180.3 367.1,182.1 368,179.1 365.5,177.3 368.6,177.2" fill="none" stroke="#1c1c1c" stroke-width="1.8" stroke-linejoin="miter" stroke-miterlimit="6"/>
<polygon points="378.7,178.8 379.7,181.7 382.8,181.8 380.3,183.6 381.2,186.6 378.7,184.8 376.2,186.6 377.1,183.6 374.6,181.8 377.7,181.7" fill="none" stroke="#1c1c1c" stroke-width="1.8" stroke-linejoin="miter" stroke-miterlimit="6"/>
<polygon points="389,190.3 390,193.2 393.1,193.3 390.6,195.1 391.5,198.1 389,196.3 386.5,198.1 387.4,195.1 384.9,193.3 388,193.2" fill="none" stroke="#1c1c1c" stroke-width="1.8" stroke-linejoin="miter" stroke-miterlimit="6"/>
<polygon points="397,197.1 398,200 401.1,200.1 398.6,201.9 399.5,204.9 397,203.1 394.5,204.9 395.4,201.9 392.9,200.1 396,200" fill="none" stroke="#1c1c1c" stroke-width="1.8" stroke-linejoin="miter" stroke-miterlimit="6"/>
<polygon points="403.9,204 404.9,206.9 408,207 405.5,208.8 406.4,211.8 403.9,210 401.4,211.8 402.3,208.8 399.8,207 402.9,206.9" fill="none" stroke="#1c1c1c" stroke-width="1.8" stroke-linejoin="miter" stroke-miterlimit="6"/>
<polygon points="411,205.7 412,208.6 415.1,208.7 412.6,210.5 413.5,213.5 411,211.7 408.5,213.5 409.4,210.5 406.9,208.7 410,208.6" fill="none" stroke="#1c1c1c" stroke-width="1.8" stroke-linejoin="miter" stroke-miterlimit="6"/>
<polygon points="418,210.7 419,213.6 422.1,213.7 419.6,215.5 420.5,218.5 418,216.7 415.5,218.5 416.4,215.5 413.9,213.7 417,213.6" fill="none" stroke="#1c1c1c" stroke-width="1.8" stroke-linejoin="miter" stroke-miterlimit="6"/>
<polygon points="425,215.2 426,218.1 429.1,218.2 426.6,220 427.5,223 425,221.2 422.5,223 423.4,220 420.9,218.2 424,218.1" fill="none" stroke="#1c1c1c" stroke-width="1.8" stroke-linejoin="miter" stroke-miterlimit="6"/>
<polygon points="432,219.2 433,222.1 436.1,222.2 433.6,224 434.5,227 432,225.2 429.5,227 430.4,224 427.9,222.2 431,222.1" fill="none" stroke="#1c1c1c" stroke-width="1.8" stroke-linejoin="miter" stroke-miterlimit="6"/>
<polygon points="439,222 440,224.9 443.1,225 440.6,226.8 441.5,229.8 439,228 436.5,229.8 437.4,226.8 434.9,225 438,224.9" fill="none" stroke="#1c1c1c" stroke-width="1.8" stroke-linejoin="miter" stroke-miterlimit="6"/>
<polygon points="446,223.2 447,226.1 450.1,226.2 447.6,228 448.5,231 446,229.2 443.5,231 444.4,228 441.9,226.2 445,226.1" fill="none" stroke="#1c1c1c" stroke-width="1.8" stroke-linejoin="miter" stroke-miterlimit="6"/>
<polygon points="454.7,222.2 455.7,225.1 458.8,225.2 456.3,227 457.2,230 454.7,228.2 452.2,230 453.1,227 450.6,225.2 453.7,225.1" fill="none" stroke="#1c1c1c" stroke-width="1.8" stroke-linejoin="miter" stroke-miterlimit="6"/>
<polygon points="92,122.2 93,124 95.1,124 94.1,125.8 95.1,127.6 93,127.6 92,129.4 91,127.6 88.9,127.6 89.9,125.8 88.9,124 91,124" fill="none" stroke="#1c1c1c" stroke-width="1.85" stroke-linejoin="miter" stroke-miterlimit="6"/>
<polygon points="96.8,122.2 97.8,124 99.9,124 98.9,125.8 99.9,127.6 97.8,127.6 96.8,129.4 95.8,127.6 93.7,127.6 94.7,125.8 93.7,124 95.8,124" fill="none" stroke="#1c1c1c" stroke-width="1.85" stroke-linejoin="miter" stroke-miterlimit="6"/>
<polygon points="103.5,121.1 104.5,122.9 106.6,122.9 105.6,124.7 106.6,126.5 104.5,126.5 103.5,128.3 102.5,126.5 100.4,126.5 101.4,124.7 100.4,122.9 102.5,122.9" fill="none" stroke="#1c1c1c" stroke-width="1.85" stroke-linejoin="miter" stroke-miterlimit="6"/>
<polygon points="114.5,121.1 115.5,122.9 117.6,122.9 116.6,124.7 117.6,126.5 115.5,126.5 114.5,128.3 113.5,126.5 111.4,126.5 112.4,124.7 111.4,122.9 113.5,122.9" fill="none" stroke="#1c1c1c" stroke-width="1.85" stroke-linejoin="miter" stroke-miterlimit="6"/>
<polygon points="120.2,121.1 121.2,122.9 123.3,122.9 122.3,124.7 123.3,126.5 121.2,126.5 120.2,128.3 119.2,126.5 117.1,126.5 118.1,124.7 117.1,122.9 119.2,122.9" fill="none" stroke="#1c1c1c" stroke-width="1.85" stroke-linejoin="miter" stroke-miterlimit="6"/>
<polygon points="126,120.9 127,122.7 129.1,122.7 128.1,124.5 129.1,126.3 127,126.3 126,128.1 125,126.3 122.9,126.3 123.9,124.5 122.9,122.7 125,122.7" fill="none" stroke="#1c1c1c" stroke-width="1.85" stroke-linejoin="miter" stroke-miterlimit="6"/>
<polygon points="133,119.4 134,121.2 136.1,121.2 135.1,123 136.1,124.8 134,124.8 133,126.6 132,124.8 129.9,124.8 130.9,123 129.9,121.2 132,121.2" fill="none" stroke="#1c1c1c" stroke-width="1.85" stroke-linejoin="miter" stroke-miterlimit="6"/>
<polygon points="141.5,115.9 142.5,117.7 144.6,117.7 143.6,119.5 144.6,121.3 142.5,121.3 141.5,123.1 140.5,121.3 138.4,121.3 139.4,119.5 138.4,117.7 140.5,117.7" fill="none" stroke="#1c1c1c" stroke-width="1.85" stroke-linejoin="miter" stroke-miterlimit="6"/>
<polygon points="151.7,118.4 152.7,120.2 154.8,120.2 153.8,122 154.8,123.8 152.7,123.8 151.7,125.6 150.7,123.8 148.6,123.8 149.6,122 148.6,120.2 150.7,120.2" fill="none" stroke="#1c1c1c" stroke-width="1.85" stroke-linejoin="miter" stroke-miterlimit="6"/>
<polygon points="157.4,117.8 158.4,119.6 160.5,119.6 159.5,121.4 160.5,123.2 158.4,123.2 157.4,125 156.4,123.2 154.3,123.2 155.3,121.4 154.3,119.6 156.4,119.6" fill="none" stroke="#1c1c1c" stroke-width="1.85" stroke-linejoin="miter" stroke-miterlimit="6"/>
<polygon points="162.5,116.9 163.5,118.7 165.6,118.7 164.6,120.5 165.6,122.3 163.5,122.3 162.5,124.1 161.5,122.3 159.4,122.3 160.4,120.5 159.4,118.7 161.5,118.7" fill="none" stroke="#1c1c1c" stroke-width="1.85" stroke-linejoin="miter" stroke-miterlimit="6"/>
<polygon points="174,115.4 175,117.2 177.1,117.2 176.1,119 177.1,120.8 175,120.8 174,122.6 173,120.8 170.9,120.8 171.9,119 170.9,117.2 173,117.2" fill="none" stroke="#1c1c1c" stroke-width="1.85" stroke-linejoin="miter" stroke-miterlimit="6"/>
<polygon points="179,114.7 180,116.5 182.1,116.5 181.1,118.3 182.1,120.1 180,120.1 179,121.9 178,120.1 175.9,120.1 176.9,118.3 175.9,116.5 178,116.5" fill="none" stroke="#1c1c1c" stroke-width="1.85" stroke-linejoin="miter" stroke-miterlimit="6"/>
<polygon points="185.3,113.4 186.3,115.2 188.4,115.2 187.4,117 188.4,118.8 186.3,118.8 185.3,120.6 184.3,118.8 182.2,118.8 183.2,117 182.2,115.2 184.3,115.2" fill="none" stroke="#1c1c1c" stroke-width="1.85" stroke-linejoin="miter" stroke-miterlimit="6"/>
<polygon points="192.1,113.4 193.1,115.2 195.2,115.2 194.2,117 195.2,118.8 193.1,118.8 192.1,120.6 191.1,118.8 189,118.8 190,117 189,115.2 191.1,115.2" fill="none" stroke="#1c1c1c" stroke-width="1.85" stroke-linejoin="miter" stroke-miterlimit="6"/>
<polygon points="207,115 208,116.8 210.1,116.8 209.1,118.6 210.1,120.4 208,120.4 207,122.2 206,120.4 203.9,120.4 204.9,118.6 203.9,116.8 206,116.8" fill="none" stroke="#1c1c1c" stroke-width="1.85" stroke-linejoin="miter" stroke-miterlimit="6"/>
<polygon points="211.6,114.3 212.6,116.1 214.7,116.1 213.7,117.9 214.7,119.7 212.6,119.7 211.6,121.5 210.6,119.7 208.5,119.7 209.5,117.9 208.5,116.1 210.6,116.1" fill="none" stroke="#1c1c1c" stroke-width="1.85" stroke-linejoin="miter" stroke-miterlimit="6"/>
<polygon points="223.5,116.1 224.5,117.9 226.6,117.9 225.6,119.7 226.6,121.5 224.5,121.5 223.5,123.3 222.5,121.5 220.4,121.5 221.4,119.7 220.4,117.9 222.5,117.9" fill="none" stroke="#1c1c1c" stroke-width="1.85" stroke-linejoin="miter" stroke-miterlimit="6"/>
<polygon points="230.5,118.4 231.5,120.2 233.6,120.2 232.6,122 233.6,123.8 231.5,123.8 230.5,125.6 229.5,123.8 227.4,123.8 228.4,122 227.4,120.2 229.5,120.2" fill="none" stroke="#1c1c1c" stroke-width="1.85" stroke-linejoin="miter" stroke-miterlimit="6"/>
<polygon points="240.2,120.7 241.2,122.5 243.3,122.5 242.3,124.3 243.3,126.1 241.2,126.1 240.2,127.9 239.2,126.1 237.1,126.1 238.1,124.3 237.1,122.5 239.2,122.5" fill="none" stroke="#1c1c1c" stroke-width="1.85" stroke-linejoin="miter" stroke-miterlimit="6"/>
<polygon points="246,120.7 247,122.5 249.1,122.5 248.1,124.3 249.1,126.1 247,126.1 246,127.9 245,126.1 242.9,126.1 243.9,124.3 242.9,122.5 245,122.5" fill="none" stroke="#1c1c1c" stroke-width="1.85" stroke-linejoin="miter" stroke-miterlimit="6"/>
<polygon points="251.5,120.5 252.5,122.3 254.6,122.3 253.6,124.1 254.6,125.9 252.5,125.9 251.5,127.7 250.5,125.9 248.4,125.9 249.4,124.1 248.4,122.3 250.5,122.3" fill="none" stroke="#1c1c1c" stroke-width="1.85" stroke-linejoin="miter" stroke-miterlimit="6"/>
<polygon points="259,122 260,123.8 262.1,123.8 261.1,125.6 262.1,127.4 260,127.4 259,129.2 258,127.4 255.9,127.4 256.9,125.6 255.9,123.8 258,123.8" fill="none" stroke="#1c1c1c" stroke-width="1.85" stroke-linejoin="miter" stroke-miterlimit="6"/>
<polygon points="266,123.2 267,125 269.1,125 268.1,126.8 269.1,128.6 267,128.6 266,130.4 265,128.6 262.9,128.6 263.9,126.8 262.9,125 265,125" fill="none" stroke="#1c1c1c" stroke-width="1.85" stroke-linejoin="miter" stroke-miterlimit="6"/>
<polygon points="272.2,127.1 273.2,128.9 275.3,128.9 274.3,130.7 275.3,132.5 273.2,132.5 272.2,134.3 271.2,132.5 269.1,132.5 270.1,130.7 269.1,128.9 271.2,128.9" fill="none" stroke="#1c1c1c" stroke-width="1.85" stroke-linejoin="miter" stroke-miterlimit="6"/>
<polygon points="276.6,126.8 277.6,128.6 279.7,128.6 278.7,130.4 279.7,132.2 277.6,132.2 276.6,134 275.6,132.2 273.5,132.2 274.5,130.4 273.5,128.6 275.6,128.6" fill="none" stroke="#1c1c1c" stroke-width="1.85" stroke-linejoin="miter" stroke-miterlimit="6"/>
<polygon points="288,127.6 289,129.4 291.1,129.4 290.1,131.2 291.1,133 289,133 288,134.8 287,133 284.9,133 285.9,131.2 284.9,129.4 287,129.4" fill="none" stroke="#1c1c1c" stroke-width="1.85" stroke-linejoin="miter" stroke-miterlimit="6"/>
<polygon points="293,130.6 294,132.4 296.1,132.4 295.1,134.2 296.1,136 294,136 293,137.8 292,136 289.9,136 290.9,134.2 289.9,132.4 292,132.4" fill="none" stroke="#1c1c1c" stroke-width="1.85" stroke-linejoin="miter" stroke-miterlimit="6"/>
<polygon points="301,133.5 302,135.3 304.1,135.3 303.1,137.1 304.1,138.9 302,138.9 301,140.7 300,138.9 297.9,138.9 298.9,137.1 297.9,135.3 300,135.3" fill="none" stroke="#1c1c1c" stroke-width="1.85" stroke-linejoin="miter" stroke-miterlimit="6"/>
<polygon points="309.5,136.5 310.5,138.3 312.6,138.3 311.6,140.1 312.6,141.9 310.5,141.9 309.5,143.7 308.5,141.9 306.4,141.9 307.4,140.1 306.4,138.3 308.5,138.3" fill="none" stroke="#1c1c1c" stroke-width="1.85" stroke-linejoin="miter" stroke-miterlimit="6"/>
<polygon points="320.4,140.7 321.4,142.5 323.5,142.5 322.5,144.3 323.5,146.1 321.4,146.1 320.4,147.9 319.4,146.1 317.3,146.1 318.3,144.3 317.3,142.5 319.4,142.5" fill="none" stroke="#1c1c1c" stroke-width="1.85" stroke-linejoin="miter" stroke-miterlimit="6"/>
<polygon points="328.9,143.4 329.9,145.2 332,145.2 331,147 332,148.8 329.9,148.8 328.9,150.6 327.9,148.8 325.8,148.8 326.8,147 325.8,145.2 327.9,145.2" fill="none" stroke="#1c1c1c" stroke-width="1.85" stroke-linejoin="miter" stroke-miterlimit="6"/>
<polygon points="337.6,149.4 338.6,151.2 340.7,151.2 339.7,153 340.7,154.8 338.6,154.8 337.6,156.6 336.6,154.8 334.5,154.8 335.5,153 334.5,151.2 336.6,151.2" fill="none" stroke="#1c1c1c" stroke-width="1.85" stroke-linejoin="miter" stroke-miterlimit="6"/>
<polygon points="346.7,153.3 347.7,155.1 349.8,155.1 348.8,156.9 349.8,158.7 347.7,158.7 346.7,160.5 345.7,158.7 343.6,158.7 344.6,156.9 343.6,155.1 345.7,155.1" fill="none" stroke="#1c1c1c" stroke-width="1.85" stroke-linejoin="miter" stroke-miterlimit="6"/>
<polygon points="353.6,156.7 354.6,158.5 356.7,158.5 355.7,160.3 356.7,162.1 354.6,162.1 353.6,163.9 352.6,162.1 350.5,162.1 351.5,160.3 350.5,158.5 352.6,158.5" fill="none" stroke="#1c1c1c" stroke-width="1.85" stroke-linejoin="miter" stroke-miterlimit="6"/>
<polygon points="355.9,159 356.9,160.8 359,160.8 358,162.6 359,164.4 356.9,164.4 355.9,166.2 354.9,164.4 352.8,164.4 353.8,162.6 352.8,160.8 354.9,160.8" fill="none" stroke="#1c1c1c" stroke-width="1.85" stroke-linejoin="miter" stroke-miterlimit="6"/>
<polygon points="362.7,163.5 363.7,165.3 365.8,165.3 364.8,167.1 365.8,168.9 363.7,168.9 362.7,170.7 361.7,168.9 359.6,168.9 360.6,167.1 359.6,165.3 361.7,165.3" fill="none" stroke="#1c1c1c" stroke-width="1.85" stroke-linejoin="miter" stroke-miterlimit="6"/>
<polygon points="369.1,168.1 370.1,169.9 372.2,169.9 371.2,171.7 372.2,173.5 370.1,173.5 369.1,175.3 368.1,173.5 366,173.5 367,171.7 366,169.9 368.1,169.9" fill="none" stroke="#1c1c1c" stroke-width="1.85" stroke-linejoin="miter" stroke-miterlimit="6"/>
<polygon points="376.4,172.7 377.4,174.5 379.5,174.5 378.5,176.3 379.5,178.1 377.4,178.1 376.4,179.9 375.4,178.1 373.3,178.1 374.3,176.3 373.3,174.5 375.4,174.5" fill="none" stroke="#1c1c1c" stroke-width="1.85" stroke-linejoin="miter" stroke-miterlimit="6"/>
<polygon points="383,178.4 384,180.2 386.1,180.2 385.1,182 386.1,183.8 384,183.8 383,185.6 382,183.8 379.9,183.8 380.9,182 379.9,180.2 382,180.2" fill="none" stroke="#1c1c1c" stroke-width="1.85" stroke-linejoin="miter" stroke-miterlimit="6"/>
<polygon points="390.1,185.3 391.1,187.1 393.2,187.1 392.2,188.9 393.2,190.7 391.1,190.7 390.1,192.5 389.1,190.7 387,190.7 388,188.9 387,187.1 389.1,187.1" fill="none" stroke="#1c1c1c" stroke-width="1.85" stroke-linejoin="miter" stroke-miterlimit="6"/>
<polygon points="397,191 398,192.8 400.1,192.8 399.1,194.6 400.1,196.4 398,196.4 397,198.2 396,196.4 393.9,196.4 394.9,194.6 393.9,192.8 396,192.8" fill="none" stroke="#1c1c1c" stroke-width="1.85" stroke-linejoin="miter" stroke-miterlimit="6"/>
<polygon points="403.9,197.8 404.9,199.6 407,199.6 406,201.4 407,203.2 404.9,203.2 403.9,205 402.9,203.2 400.8,203.2 401.8,201.4 400.8,199.6 402.9,199.6" fill="none" stroke="#1c1c1c" stroke-width="1.85" stroke-linejoin="miter" stroke-miterlimit="6"/>
<polygon points="410,203.4 411,205.2 413.1,205.2 412.1,207 413.1,208.8 411,208.8 410,210.6 409,208.8 406.9,208.8 407.9,207 406.9,205.2 409,205.2" fill="none" stroke="#1c1c1c" stroke-width="1.85" stroke-linejoin="miter" stroke-miterlimit="6"/>
<polygon points="416,207.9 417,209.7 419.1,209.7 418.1,211.5 419.1,213.3 417,213.3 416,215.1 415,213.3 412.9,213.3 413.9,211.5 412.9,209.7 415,209.7" fill="none" stroke="#1c1c1c" stroke-width="1.85" stroke-linejoin="miter" stroke-miterlimit="6"/>
<polygon points="422,212.4 423,214.2 425.1,214.2 424.1,216 425.1,217.8 423,217.8 422,219.6 421,217.8 418.9,217.8 419.9,216 418.9,214.2 421,214.2" fill="none" stroke="#1c1c1c" stroke-width="1.85" stroke-linejoin="miter" stroke-miterlimit="6"/>
<polygon points="428,216.9 429,218.7 431.1,218.7 430.1,220.5 431.1,222.3 429,222.3 428,224.1 427,222.3 424.9,222.3 425.9,220.5 424.9,218.7 427,218.7" fill="none" stroke="#1c1c1c" stroke-width="1.85" stroke-linejoin="miter" stroke-miterlimit="6"/>
<polygon points="434,220.4 435,222.2 437.1,222.2 436.1,224 437.1,225.8 435,225.8 434,227.6 433,225.8 430.9,225.8 431.9,224 430.9,222.2 433,222.2" fill="none" stroke="#1c1c1c" stroke-width="1.85" stroke-linejoin="miter" stroke-miterlimit="6"/>
<polygon points="440,222.7 441,224.5 443.1,224.5 442.1,226.3 443.1,228.1 441,228.1 440,229.9 439,228.1 436.9,228.1 437.9,226.3 436.9,224.5 439,224.5" fill="none" stroke="#1c1c1c" stroke-width="1.85" stroke-linejoin="miter" stroke-miterlimit="6"/>
<polygon points="447,223.9 448,225.7 450.1,225.7 449.1,227.5 450.1,229.3 448,229.3 447,231.1 446,229.3 443.9,229.3 444.9,227.5 443.9,225.7 446,225.7" fill="none" stroke="#1c1c1c" stroke-width="1.85" stroke-linejoin="miter" stroke-miterlimit="6"/>
<polygon points="454,224.4 455,226.2 457.1,226.2 456.1,228 457.1,229.8 455,229.8 454,231.6 453,229.8 450.9,229.8 451.9,228 450.9,226.2 453,226.2" fill="none" stroke="#1c1c1c" stroke-width="1.85" stroke-linejoin="miter" stroke-miterlimit="6"/>
<rect x="409.5" y="4.2" width="108" height="190.2" fill="#fff" stroke="#b4b4b4" stroke-width="1"/>
<text x="455.2" y="18.4" class="t l">Exp. 10Hz</text>
<rect x="430.5" y="10.8" width="7" height="7" fill="none" stroke="#1c1c1c" stroke-width="1.75"/>
<text x="455.2" y="34" class="t l">Exp. 20Hz</text>
<polygon points="434,25.5 437.2,29.8 434,34.1 430.8,29.8" fill="none" stroke="#1c1c1c" stroke-width="1.8" stroke-linejoin="miter" stroke-miterlimit="6"/>
<text x="455.2" y="49.7" class="t l">Exp. 30Hz</text>
<polygon points="429.7,41.7 438.3,41.7 434,48.9" fill="none" stroke="#1c1c1c" stroke-width="1.8" stroke-linejoin="miter" stroke-miterlimit="6"/>
<text x="455.2" y="65.3" class="t l">Exp. 40Hz</text>
<polygon points="429.7,63.6 438.3,63.6 434,56.4" fill="none" stroke="#1c1c1c" stroke-width="1.8" stroke-linejoin="miter" stroke-miterlimit="6"/>
<text x="455.2" y="80.9" class="t l">Exp. 50Hz</text>
<polygon points="434,72.1 435,74.9 438,75 435.6,76.8 436.5,79.7 434,78 431.5,79.7 432.4,76.8 430,75 433,74.9" fill="none" stroke="#1c1c1c" stroke-width="1.8" stroke-linejoin="miter" stroke-miterlimit="6"/>
<text x="455.2" y="96.6" class="t l">Exp. 60Hz</text>
<polygon points="434,88.3 435,90 437,90 436,91.8 437,93.5 435,93.6 434,95.3 433,93.6 431,93.5 432,91.8 431,90 433,90" fill="none" stroke="#1c1c1c" stroke-width="1.85" stroke-linejoin="miter" stroke-miterlimit="6"/>
<text x="455.2" y="112.2" class="t m">Sim. 10Hz</text>
<text x="455.2" y="127.8" class="t m">Sim. 20Hz</text>
<text x="455.2" y="143.4" class="t m">Sim. 30Hz</text>
<text x="455.2" y="159.1" class="t m">Sim. 40Hz</text>
<text x="455.2" y="174.7" class="t m">Sim. 50Hz</text>
<text x="455.2" y="190.3" class="t m">Sim. 60Hz</text>
<line x1="416.2" y1="107.3" x2="451.2" y2="107.3" stroke="#1c1c1c" stroke-width="1.75"/>
<line x1="416.2" y1="122.8" x2="451.2" y2="122.8" stroke="#1c1c1c" stroke-width="1.75" stroke-dasharray="4.9 2.1"/>
<line x1="416.2" y1="138.3" x2="451.2" y2="138.3" stroke="#1c1c1c" stroke-width="1.75" stroke-dasharray="1.6 1.5"/>
<line x1="416.2" y1="153.8" x2="451.2" y2="153.8" stroke="#1c1c1c" stroke-width="1.75" stroke-dasharray="5 2 1.5 2"/>
<line x1="416.2" y1="169.3" x2="451.2" y2="169.3" stroke="#626262" stroke-width="1.75"/>
<line x1="416.2" y1="184.8" x2="451.2" y2="184.8" stroke="#626262" stroke-width="1.75" stroke-dasharray="4.9 2.1"/>
<g stroke="#3a3a3a" stroke-width="1" fill="none"><line x1="48.5" y1="3.5" x2="48.5" y2="5.7"/><line x1="48.9" y1="353.5" x2="48.9" y2="355.1" stroke-width="1.8"/><line x1="62.6" y1="3.5" x2="62.6" y2="5.7"/><line x1="63" y1="353.5" x2="63" y2="355.1" stroke-width="1.8"/><line x1="74.9" y1="3.5" x2="74.9" y2="5.7"/><line x1="75.3" y1="353.5" x2="75.3" y2="355.1" stroke-width="1.8"/><line x1="85.7" y1="3.5" x2="85.7" y2="5.7"/><line x1="86.1" y1="353.5" x2="86.1" y2="355.1" stroke-width="1.8"/><line x1="95.3" y1="3.3" x2="95.3" y2="8.3" stroke-dasharray="1.6 1.2"/><line x1="95.3" y1="351.5" x2="95.3" y2="356.5" stroke-dasharray="1.6 1.2"/><line x1="159" y1="3.5" x2="159" y2="5.7"/><line x1="159.4" y1="353.5" x2="159.4" y2="355.1" stroke-width="1.8"/><line x1="196.2" y1="3.5" x2="196.2" y2="5.7"/><line x1="196.6" y1="353.5" x2="196.6" y2="355.1" stroke-width="1.8"/><line x1="222.6" y1="3.5" x2="222.6" y2="5.7"/><line x1="223" y1="353.5" x2="223" y2="355.1" stroke-width="1.8"/><line x1="243" y1="3.5" x2="243" y2="5.7"/><line x1="243.4" y1="353.5" x2="243.4" y2="355.1" stroke-width="1.8"/><line x1="259.8" y1="3.5" x2="259.8" y2="5.7"/><line x1="260.2" y1="353.5" x2="260.2" y2="355.1" stroke-width="1.8"/><line x1="273.9" y1="3.5" x2="273.9" y2="5.7"/><line x1="274.3" y1="353.5" x2="274.3" y2="355.1" stroke-width="1.8"/><line x1="286.2" y1="3.5" x2="286.2" y2="5.7"/><line x1="286.6" y1="353.5" x2="286.6" y2="355.1" stroke-width="1.8"/><line x1="297" y1="3.5" x2="297" y2="5.7"/><line x1="297.4" y1="353.5" x2="297.4" y2="355.1" stroke-width="1.8"/><line x1="306.6" y1="3.3" x2="306.6" y2="8.3" stroke-dasharray="1.6 1.2"/><line x1="306.6" y1="351.5" x2="306.6" y2="356.5" stroke-dasharray="1.6 1.2"/><line x1="370.3" y1="3.5" x2="370.3" y2="5.7"/><line x1="370.7" y1="353.5" x2="370.7" y2="355.1" stroke-width="1.8"/><line x1="407.5" y1="3.5" x2="407.5" y2="5.7"/><line x1="407.9" y1="353.5" x2="407.9" y2="355.1" stroke-width="1.8"/><line x1="433.9" y1="3.5" x2="433.9" y2="5.7"/><line x1="434.3" y1="353.5" x2="434.3" y2="355.1" stroke-width="1.8"/><line x1="454.3" y1="3.5" x2="454.3" y2="5.7"/><line x1="454.7" y1="353.5" x2="454.7" y2="355.1" stroke-width="1.8"/><line x1="471.1" y1="3.5" x2="471.1" y2="5.7"/><line x1="471.5" y1="353.5" x2="471.5" y2="355.1" stroke-width="1.8"/><line x1="485.2" y1="3.5" x2="485.2" y2="5.7"/><line x1="485.6" y1="353.5" x2="485.6" y2="355.1" stroke-width="1.8"/><line x1="497.5" y1="3.5" x2="497.5" y2="5.7"/><line x1="497.9" y1="353.5" x2="497.9" y2="355.1" stroke-width="1.8"/><line x1="508.3" y1="3.5" x2="508.3" y2="5.7"/><line x1="508.7" y1="353.5" x2="508.7" y2="355.1" stroke-width="1.8"/><line x1="518" y1="3.3" x2="518" y2="8.3" stroke-dasharray="1.6 1.2"/><line x1="518" y1="351.5" x2="518" y2="356.5" stroke-dasharray="1.6 1.2"/><line x1="36.5" y1="356.5" x2="39.1" y2="356.5"/><line x1="512.1" y1="356.5" x2="513.7" y2="356.5"/><line x1="517.3" y1="356.5" x2="518.7" y2="356.5"/><line x1="36.5" y1="321.2" x2="39.1" y2="321.2"/><line x1="512.1" y1="321.2" x2="513.7" y2="321.2"/><line x1="517.3" y1="321.2" x2="518.7" y2="321.2"/><line x1="36.5" y1="285.9" x2="39.1" y2="285.9"/><line x1="512.1" y1="285.9" x2="513.7" y2="285.9"/><line x1="517.3" y1="285.9" x2="518.7" y2="285.9"/><line x1="36.5" y1="250.5" x2="39.1" y2="250.5"/><line x1="512.1" y1="250.5" x2="513.7" y2="250.5"/><line x1="517.3" y1="250.5" x2="518.7" y2="250.5"/><line x1="36.5" y1="215.2" x2="39.1" y2="215.2"/><line x1="512.1" y1="215.2" x2="513.7" y2="215.2"/><line x1="517.3" y1="215.2" x2="518.7" y2="215.2"/><line x1="36.5" y1="179.9" x2="39.1" y2="179.9"/><line x1="517.3" y1="179.9" x2="518.7" y2="179.9"/><line x1="36.5" y1="144.6" x2="39.1" y2="144.6"/><line x1="517.3" y1="144.6" x2="518.7" y2="144.6"/><line x1="36.5" y1="109.3" x2="39.1" y2="109.3"/><line x1="517.3" y1="109.3" x2="518.7" y2="109.3"/><line x1="36.5" y1="73.9" x2="39.1" y2="73.9"/><line x1="517.3" y1="73.9" x2="518.7" y2="73.9"/><line x1="36.5" y1="38.6" x2="39.1" y2="38.6"/><line x1="517.3" y1="38.6" x2="518.7" y2="38.6"/><line x1="36.5" y1="3.3" x2="39.1" y2="3.3"/><line x1="517.3" y1="3.3" x2="518.7" y2="3.3"/></g>
</g><g stroke="#c8c8c8" stroke-width="1" fill="none"><line x1="31.5" y1="435" x2="31.5" y2="788"/><line x1="48.5" y1="435" x2="48.5" y2="788"/><line x1="62.5" y1="435" x2="62.5" y2="788"/><line x1="74.5" y1="435" x2="74.5" y2="788"/><line x1="85.5" y1="435" x2="85.5" y2="788"/><line x1="95.5" y1="435" x2="95.5" y2="788"/><line x1="158.5" y1="435" x2="158.5" y2="788"/><line x1="196.5" y1="435" x2="196.5" y2="788"/><line x1="222.5" y1="435" x2="222.5" y2="788"/><line x1="243.5" y1="435" x2="243.5" y2="788"/><line x1="259.5" y1="435" x2="259.5" y2="788"/><line x1="273.5" y1="435" x2="273.5" y2="788"/><line x1="286.5" y1="435" x2="286.5" y2="788"/><line x1="296.5" y1="435" x2="296.5" y2="788"/><line x1="306.5" y1="435" x2="306.5" y2="788"/><line x1="370.5" y1="435" x2="370.5" y2="788"/><line x1="407.5" y1="435" x2="407.5" y2="788"/><line x1="433.5" y1="435" x2="433.5" y2="788"/><line x1="454.5" y1="435" x2="454.5" y2="788"/><line x1="471.5" y1="435" x2="471.5" y2="788"/><line x1="485.5" y1="435" x2="485.5" y2="788"/><line x1="497.5" y1="435" x2="497.5" y2="788"/><line x1="508.5" y1="435" x2="508.5" y2="788"/><line x1="517.5" y1="435" x2="517.5" y2="788"/><line x1="31.5" y1="788.5" x2="517.7" y2="788.5"/><line x1="31.5" y1="752.5" x2="517.7" y2="752.5"/><line x1="31.5" y1="717.5" x2="517.7" y2="717.5"/><line x1="31.5" y1="682.5" x2="517.7" y2="682.5"/><line x1="31.5" y1="646.5" x2="517.7" y2="646.5"/><line x1="31.5" y1="611.5" x2="517.7" y2="611.5"/><line x1="31.5" y1="576.5" x2="517.7" y2="576.5"/><line x1="31.5" y1="540.5" x2="517.7" y2="540.5"/><line x1="31.5" y1="505.5" x2="517.7" y2="505.5"/><line x1="31.5" y1="470.5" x2="517.7" y2="470.5"/><line x1="31.5" y1="434.5" x2="517.7" y2="434.5"/></g><g class="b">
<text x="30.2" y="792.6" text-anchor="end" class="t k">0</text>
<text x="30.2" y="757.3" text-anchor="end" class="t k">5</text>
<text x="30.2" y="722" text-anchor="end" class="t k">10</text>
<text x="30.2" y="686.7" text-anchor="end" class="t k">15</text>
<text x="30.2" y="651.4" text-anchor="end" class="t k">20</text>
<text x="30.2" y="616.1" text-anchor="end" class="t k">25</text>
<text x="30.2" y="580.8" text-anchor="end" class="t k">30</text>
<text x="30.2" y="545.5" text-anchor="end" class="t k">35</text>
<text x="30.2" y="510.2" text-anchor="end" class="t k">40</text>
<text x="30.2" y="474.9" text-anchor="end" class="t k">45</text>
<text x="30.2" y="439.7" text-anchor="end" class="t k">50</text>
<text x="85.6" y="806.5" class="t">10<tspan dy="-6.2" class="s">-1</tspan></text>
<text x="298.3" y="806.5" class="t">10<tspan dy="-6.2" class="s">0</tspan></text>
<text x="510.8" y="806.5" class="t">10<tspan dy="-6.2" class="s">1</tspan></text>
<text x="273.6" y="821.3" text-anchor="middle" class="t x">Strain amplitude (%)</text>
<text transform="translate(8.2,613.2) rotate(-90)" text-anchor="middle" class="t y">Err2 (%)</text>
<g fill="none" stroke-width="1.75">
<path d="M91.7 459.3 L111 466.7 L130 479.3 L149 502 L159 516 L168 560.9 L182 607.1 L195.1 643.4 L209.6 682.4 L219.1 694 L234.7 715.7 L245 731.3 L256.9 743.6 L271.7 764.6 L277.3 773.9 L283 780.1 L288.9 786.9 L300.4 781.2 L309.8 774.9 L322.4 768.6 L337.1 764.4 L348.6 757.1 L356 756 L362.2 751.8 L373 757 L387.3 758.7 L401.9 745.7 L412.4 751.4 L422.9 745.1 L434.4 758.7 L440.7 750.3 L448 745 L453.9 737.3" stroke="#1c1c1c"/>
<path d="M92 568 L102.9 580 L117.7 588 L127.7 600.6 L140.6 616.6 L155.7 636.6 L168 660 L177.7 672.9 L188.3 696.3 L197.4 704.3 L206.6 714.6 L221.4 724.9 L238.6 739.7 L252.3 750 L267.1 763.7 L277.4 775.1 L285.4 782 L299.4 781.2 L309.8 774.9 L320.3 766.5 L330.8 758.1 L341.3 760.2 L354.9 759.2 L361.2 766.5 L371.3 773 L384 780.5 L392 784.5 L400.5 785 L412 781 L423 778.5 L429 776.5 L436 773 L443.9 768 L451 771" stroke="#1c1c1c" stroke-dasharray="5 2.5"/>
<path d="M90.3 672.3 L97.1 678 L102.9 684.9 L111.5 687.1 L123.4 694 L139.9 707.7 L148.1 720.7 L159.5 729 L172.6 742 L180.5 749.7 L194.7 762.6 L202 767.1 L214.6 774 L227.1 780.2 L244.3 781 L257.5 786.2 L265.8 785.8 L277.4 775.1 L280.5 769.7 L291 769.7 L303.5 766.5 L313 766.5 L322.4 763.4 L330.8 760.2 L342.3 759.2 L353.9 760.2 L361.2 766.5 L372.7 765.5 L385 778 L393 785 L401 785.5 L411.9 782.4 L421 783 L425.6 783.6 L434 781 L440 780 L445.6 780.7 L454.1 786.6" stroke="#1c1c1c" stroke-width="1.8" stroke-dasharray="1.8 1.8"/>
<path d="M91 719.8 L100.1 719.1 L109.7 731.3 L116.6 731.7 L129.8 737.4 L139 743.6 L151.3 758 L160.5 759.6 L173.2 770.6 L181.5 777.2 L190.4 783.9 L196.3 783.1 L202 783.1 L212.3 783.1 L219.1 783.1 L228.3 782 L243.6 774 L254.1 772.9 L268.3 763.7 L280.9 751.8 L293.1 754.6 L307.7 750.8 L318.6 746.2 L328.7 746.6 L339.2 745.6 L352.8 743.5 L362 752 L370 760 L378 769 L388 779 L396 773 L401.3 766 L410 739.2 L418.5 742.5 L421.8 755 L426.7 765.9 L434 771 L441 773 L449 772.5 L454 771.6" stroke="#1c1c1c" stroke-dasharray="5 2.2 1.5 2.2"/>
<path d="M91.4 740.4 L97 741 L103 762 L111 779.3 L116.5 779.3 L125.7 767 L133 755.7 L140 737.4 L146.3 727 L154.3 715.7 L161.6 718 L171.3 724.9 L183 731 L190 735 L197 735.5 L204.3 743.1 L212.3 754.6 L223 762.6 L231.7 766.5 L248.9 754.6 L260.3 749.5 L270.6 735.1 L279.4 730.9 L287.8 725.6 L292 726.7 L306.7 729.8 L320.3 735.1 L331.8 734 L342.3 730.9 L349.7 731.9 L353.9 738.2 L360.1 742.4 L367.5 750.8 L375.7 760.8 L385.2 780.7 L395.6 769.2 L401.9 763.9 L408.2 765 L418.7 772.3 L428.1 757.7 L433.4 733.5 L443.9 747.2 L450.1 755.6 L453.3 752.4" stroke="#626262" stroke-width="2.3"/>
<path d="M91.4 739.7 L102.9 740.9 L114.3 745.4 L120 748.9 L125.7 749.5 L140.6 750 L150.9 751.8 L160 750.5 L176 743.1 L187.4 737 L196.5 733.5 L210 736.3 L223.7 737.4 L230.6 738.1 L238.6 739.7 L245.4 731.7 L251.1 730.6 L258 730.6 L266 728.3 L277.3 728.6 L287.8 721.4 L293.1 722.5 L301.4 722.5 L309.8 722.5 L320.3 724 L329.7 721.4 L338.1 728.8 L346.5 726.7 L351.8 727.3 L357 727.3 L362.2 740.6 L369.5 744.3 L376.8 747.5 L380 760.8 L385.2 777.6 L394.6 769.2 L401.9 760.8 L410.3 750.3 L417.7 743 L428.1 747.2 L435.9 723.1 L446 739.8 L452.2 752.4" stroke="#626262" stroke-width="1.8" stroke-dasharray="5 2.5"/>
</g>
<rect x="88.4" y="455.9" width="6.7" height="6.7" fill="none" stroke="#1c1c1c" stroke-width="1.8"/>
<rect x="107.7" y="463.3" width="6.7" height="6.7" fill="none" stroke="#1c1c1c" stroke-width="1.8"/>
<rect x="126.7" y="475.9" width="6.7" height="6.7" fill="none" stroke="#1c1c1c" stroke-width="1.8"/>
<rect x="145.7" y="498.6" width="6.7" height="6.7" fill="none" stroke="#1c1c1c" stroke-width="1.8"/>
<rect x="155.7" y="512.6" width="6.7" height="6.7" fill="none" stroke="#1c1c1c" stroke-width="1.8"/>
<rect x="164.7" y="557.5" width="6.7" height="6.7" fill="none" stroke="#1c1c1c" stroke-width="1.8"/>
<rect x="178.7" y="603.8" width="6.7" height="6.7" fill="none" stroke="#1c1c1c" stroke-width="1.8"/>
<rect x="191.8" y="640" width="6.7" height="6.7" fill="none" stroke="#1c1c1c" stroke-width="1.8"/>
<rect x="206.2" y="679" width="6.7" height="6.7" fill="none" stroke="#1c1c1c" stroke-width="1.8"/>
<rect x="215.8" y="690.6" width="6.7" height="6.7" fill="none" stroke="#1c1c1c" stroke-width="1.8"/>
<rect x="231.3" y="712.4" width="6.7" height="6.7" fill="none" stroke="#1c1c1c" stroke-width="1.8"/>
<rect x="241.7" y="727.9" width="6.7" height="6.7" fill="none" stroke="#1c1c1c" stroke-width="1.8"/>
<rect x="253.5" y="740.2" width="6.7" height="6.7" fill="none" stroke="#1c1c1c" stroke-width="1.8"/>
<rect x="268.3" y="761.2" width="6.7" height="6.7" fill="none" stroke="#1c1c1c" stroke-width="1.8"/>
<rect x="273.9" y="770.5" width="6.7" height="6.7" fill="none" stroke="#1c1c1c" stroke-width="1.8"/>
<rect x="279.6" y="776.8" width="6.7" height="6.7" fill="none" stroke="#1c1c1c" stroke-width="1.8"/>
<rect x="285.5" y="783.5" width="6.7" height="6.7" fill="none" stroke="#1c1c1c" stroke-width="1.8"/>
<rect x="297" y="777.9" width="6.7" height="6.7" fill="none" stroke="#1c1c1c" stroke-width="1.8"/>
<rect x="306.4" y="771.5" width="6.7" height="6.7" fill="none" stroke="#1c1c1c" stroke-width="1.8"/>
<rect x="319" y="765.2" width="6.7" height="6.7" fill="none" stroke="#1c1c1c" stroke-width="1.8"/>
<rect x="333.8" y="761" width="6.7" height="6.7" fill="none" stroke="#1c1c1c" stroke-width="1.8"/>
<rect x="345.2" y="753.8" width="6.7" height="6.7" fill="none" stroke="#1c1c1c" stroke-width="1.8"/>
<rect x="352.6" y="752.6" width="6.7" height="6.7" fill="none" stroke="#1c1c1c" stroke-width="1.8"/>
<rect x="358.8" y="748.4" width="6.7" height="6.7" fill="none" stroke="#1c1c1c" stroke-width="1.8"/>
<rect x="369.6" y="753.6" width="6.7" height="6.7" fill="none" stroke="#1c1c1c" stroke-width="1.8"/>
<rect x="383.9" y="755.4" width="6.7" height="6.7" fill="none" stroke="#1c1c1c" stroke-width="1.8"/>
<rect x="398.5" y="742.4" width="6.7" height="6.7" fill="none" stroke="#1c1c1c" stroke-width="1.8"/>
<rect x="409" y="748" width="6.7" height="6.7" fill="none" stroke="#1c1c1c" stroke-width="1.8"/>
<rect x="419.5" y="741.8" width="6.7" height="6.7" fill="none" stroke="#1c1c1c" stroke-width="1.8"/>
<rect x="431" y="755.4" width="6.7" height="6.7" fill="none" stroke="#1c1c1c" stroke-width="1.8"/>
<rect x="437.3" y="746.9" width="6.7" height="6.7" fill="none" stroke="#1c1c1c" stroke-width="1.8"/>
<rect x="444.6" y="741.6" width="6.7" height="6.7" fill="none" stroke="#1c1c1c" stroke-width="1.8"/>
<rect x="450.5" y="733.9" width="6.7" height="6.7" fill="none" stroke="#1c1c1c" stroke-width="1.8"/>
<polygon points="92,563.8 95.2,568 92,572.2 88.8,568" fill="none" stroke="#1c1c1c" stroke-width="1.8" stroke-linejoin="miter" stroke-miterlimit="6"/>
<polygon points="102.9,575.8 106.1,580 102.9,584.2 99.7,580" fill="none" stroke="#1c1c1c" stroke-width="1.8" stroke-linejoin="miter" stroke-miterlimit="6"/>
<polygon points="117.7,583.8 120.9,588 117.7,592.2 114.5,588" fill="none" stroke="#1c1c1c" stroke-width="1.8" stroke-linejoin="miter" stroke-miterlimit="6"/>
<polygon points="127.7,596.4 130.9,600.6 127.7,604.9 124.5,600.6" fill="none" stroke="#1c1c1c" stroke-width="1.8" stroke-linejoin="miter" stroke-miterlimit="6"/>
<polygon points="140.6,612.4 143.8,616.6 140.6,620.9 137.4,616.6" fill="none" stroke="#1c1c1c" stroke-width="1.8" stroke-linejoin="miter" stroke-miterlimit="6"/>
<polygon points="155.7,632.4 158.9,636.6 155.7,640.9 152.5,636.6" fill="none" stroke="#1c1c1c" stroke-width="1.8" stroke-linejoin="miter" stroke-miterlimit="6"/>
<polygon points="168,655.8 171.2,660 168,664.2 164.8,660" fill="none" stroke="#1c1c1c" stroke-width="1.8" stroke-linejoin="miter" stroke-miterlimit="6"/>
<polygon points="177.7,668.6 180.9,672.9 177.7,677.1 174.5,672.9" fill="none" stroke="#1c1c1c" stroke-width="1.8" stroke-linejoin="miter" stroke-miterlimit="6"/>
<polygon points="188.3,692 191.5,696.3 188.3,700.5 185.1,696.3" fill="none" stroke="#1c1c1c" stroke-width="1.8" stroke-linejoin="miter" stroke-miterlimit="6"/>
<polygon points="197.4,700 200.6,704.3 197.4,708.5 194.2,704.3" fill="none" stroke="#1c1c1c" stroke-width="1.8" stroke-linejoin="miter" stroke-miterlimit="6"/>
<polygon points="206.6,710.4 209.8,714.6 206.6,718.9 203.4,714.6" fill="none" stroke="#1c1c1c" stroke-width="1.8" stroke-linejoin="miter" stroke-miterlimit="6"/>
<polygon points="221.4,720.6 224.6,724.9 221.4,729.1 218.2,724.9" fill="none" stroke="#1c1c1c" stroke-width="1.8" stroke-linejoin="miter" stroke-miterlimit="6"/>
<polygon points="238.6,735.5 241.8,739.7 238.6,744 235.4,739.7" fill="none" stroke="#1c1c1c" stroke-width="1.8" stroke-linejoin="miter" stroke-miterlimit="6"/>
<polygon points="252.3,745.8 255.5,750 252.3,754.2 249.1,750" fill="none" stroke="#1c1c1c" stroke-width="1.8" stroke-linejoin="miter" stroke-miterlimit="6"/>
<polygon points="267.1,759.5 270.3,763.7 267.1,768 263.9,763.7" fill="none" stroke="#1c1c1c" stroke-width="1.8" stroke-linejoin="miter" stroke-miterlimit="6"/>
<polygon points="277.4,770.9 280.6,775.1 277.4,779.4 274.2,775.1" fill="none" stroke="#1c1c1c" stroke-width="1.8" stroke-linejoin="miter" stroke-miterlimit="6"/>
<polygon points="285.4,777.8 288.6,782 285.4,786.2 282.2,782" fill="none" stroke="#1c1c1c" stroke-width="1.8" stroke-linejoin="miter" stroke-miterlimit="6"/>
<polygon points="299.4,777 302.6,781.2 299.4,785.5 296.2,781.2" fill="none" stroke="#1c1c1c" stroke-width="1.8" stroke-linejoin="miter" stroke-miterlimit="6"/>
<polygon points="309.8,770.6 313,774.9 309.8,779.1 306.6,774.9" fill="none" stroke="#1c1c1c" stroke-width="1.8" stroke-linejoin="miter" stroke-miterlimit="6"/>
<polygon points="320.3,762.2 323.5,766.5 320.3,770.8 317.1,766.5" fill="none" stroke="#1c1c1c" stroke-width="1.8" stroke-linejoin="miter" stroke-miterlimit="6"/>
<polygon points="330.8,753.9 334,758.1 330.8,762.4 327.6,758.1" fill="none" stroke="#1c1c1c" stroke-width="1.8" stroke-linejoin="miter" stroke-miterlimit="6"/>
<polygon points="341.3,756 344.5,760.2 341.3,764.5 338.1,760.2" fill="none" stroke="#1c1c1c" stroke-width="1.8" stroke-linejoin="miter" stroke-miterlimit="6"/>
<polygon points="354.9,755 358.1,759.2 354.9,763.5 351.7,759.2" fill="none" stroke="#1c1c1c" stroke-width="1.8" stroke-linejoin="miter" stroke-miterlimit="6"/>
<polygon points="361.2,762.2 364.4,766.5 361.2,770.8 358,766.5" fill="none" stroke="#1c1c1c" stroke-width="1.8" stroke-linejoin="miter" stroke-miterlimit="6"/>
<polygon points="371.3,768.8 374.5,773 371.3,777.2 368.1,773" fill="none" stroke="#1c1c1c" stroke-width="1.8" stroke-linejoin="miter" stroke-miterlimit="6"/>
<polygon points="384,776.2 387.2,780.5 384,784.8 380.8,780.5" fill="none" stroke="#1c1c1c" stroke-width="1.8" stroke-linejoin="miter" stroke-miterlimit="6"/>
<polygon points="392,780.2 395.2,784.5 392,788.8 388.8,784.5" fill="none" stroke="#1c1c1c" stroke-width="1.8" stroke-linejoin="miter" stroke-miterlimit="6"/>
<polygon points="400.5,780.8 403.7,785 400.5,789.2 397.3,785" fill="none" stroke="#1c1c1c" stroke-width="1.8" stroke-linejoin="miter" stroke-miterlimit="6"/>
<polygon points="412,776.8 415.2,781 412,785.2 408.8,781" fill="none" stroke="#1c1c1c" stroke-width="1.8" stroke-linejoin="miter" stroke-miterlimit="6"/>
<polygon points="423,774.2 426.2,778.5 423,782.8 419.8,778.5" fill="none" stroke="#1c1c1c" stroke-width="1.8" stroke-linejoin="miter" stroke-miterlimit="6"/>
<polygon points="429,772.2 432.2,776.5 429,780.8 425.8,776.5" fill="none" stroke="#1c1c1c" stroke-width="1.8" stroke-linejoin="miter" stroke-miterlimit="6"/>
<polygon points="436,768.8 439.2,773 436,777.2 432.8,773" fill="none" stroke="#1c1c1c" stroke-width="1.8" stroke-linejoin="miter" stroke-miterlimit="6"/>
<polygon points="443.9,763.8 447.1,768 443.9,772.2 440.7,768" fill="none" stroke="#1c1c1c" stroke-width="1.8" stroke-linejoin="miter" stroke-miterlimit="6"/>
<polygon points="451,766.8 454.2,771 451,775.2 447.8,771" fill="none" stroke="#1c1c1c" stroke-width="1.8" stroke-linejoin="miter" stroke-miterlimit="6"/>
<polygon points="86.3,668.8 94.2,668.8 90.3,675.8" fill="none" stroke="#1c1c1c" stroke-width="1.95" stroke-linejoin="miter" stroke-miterlimit="6"/>
<polygon points="93.1,674.5 101,674.5 97.1,681.5" fill="none" stroke="#1c1c1c" stroke-width="1.95" stroke-linejoin="miter" stroke-miterlimit="6"/>
<polygon points="99,681.4 106.9,681.4 102.9,688.4" fill="none" stroke="#1c1c1c" stroke-width="1.95" stroke-linejoin="miter" stroke-miterlimit="6"/>
<polygon points="107.5,683.6 115.5,683.6 111.5,690.6" fill="none" stroke="#1c1c1c" stroke-width="1.95" stroke-linejoin="miter" stroke-miterlimit="6"/>
<polygon points="119.5,690.5 127.4,690.5 123.4,697.5" fill="none" stroke="#1c1c1c" stroke-width="1.95" stroke-linejoin="miter" stroke-miterlimit="6"/>
<polygon points="136,704.2 143.8,704.2 139.9,711.2" fill="none" stroke="#1c1c1c" stroke-width="1.95" stroke-linejoin="miter" stroke-miterlimit="6"/>
<polygon points="144.2,717.2 152,717.2 148.1,724.2" fill="none" stroke="#1c1c1c" stroke-width="1.95" stroke-linejoin="miter" stroke-miterlimit="6"/>
<polygon points="155.6,725.5 163.4,725.5 159.5,732.5" fill="none" stroke="#1c1c1c" stroke-width="1.95" stroke-linejoin="miter" stroke-miterlimit="6"/>
<polygon points="168.7,738.5 176.5,738.5 172.6,745.5" fill="none" stroke="#1c1c1c" stroke-width="1.95" stroke-linejoin="miter" stroke-miterlimit="6"/>
<polygon points="176.6,746.2 184.4,746.2 180.5,753.2" fill="none" stroke="#1c1c1c" stroke-width="1.95" stroke-linejoin="miter" stroke-miterlimit="6"/>
<polygon points="190.8,759.1 198.6,759.1 194.7,766.1" fill="none" stroke="#1c1c1c" stroke-width="1.95" stroke-linejoin="miter" stroke-miterlimit="6"/>
<polygon points="198.1,763.6 205.9,763.6 202,770.6" fill="none" stroke="#1c1c1c" stroke-width="1.95" stroke-linejoin="miter" stroke-miterlimit="6"/>
<polygon points="210.7,770.5 218.5,770.5 214.6,777.5" fill="none" stroke="#1c1c1c" stroke-width="1.95" stroke-linejoin="miter" stroke-miterlimit="6"/>
<polygon points="223.2,776.7 231,776.7 227.1,783.7" fill="none" stroke="#1c1c1c" stroke-width="1.95" stroke-linejoin="miter" stroke-miterlimit="6"/>
<polygon points="240.4,777.5 248.2,777.5 244.3,784.5" fill="none" stroke="#1c1c1c" stroke-width="1.95" stroke-linejoin="miter" stroke-miterlimit="6"/>
<polygon points="253.6,782.7 261.4,782.7 257.5,789.7" fill="none" stroke="#1c1c1c" stroke-width="1.95" stroke-linejoin="miter" stroke-miterlimit="6"/>
<polygon points="261.9,782.3 269.8,782.3 265.8,789.3" fill="none" stroke="#1c1c1c" stroke-width="1.95" stroke-linejoin="miter" stroke-miterlimit="6"/>
<polygon points="273.4,771.6 281.3,771.6 277.4,778.6" fill="none" stroke="#1c1c1c" stroke-width="1.95" stroke-linejoin="miter" stroke-miterlimit="6"/>
<polygon points="276.6,766.2 284.4,766.2 280.5,773.2" fill="none" stroke="#1c1c1c" stroke-width="1.95" stroke-linejoin="miter" stroke-miterlimit="6"/>
<polygon points="287.1,766.2 294.9,766.2 291,773.2" fill="none" stroke="#1c1c1c" stroke-width="1.95" stroke-linejoin="miter" stroke-miterlimit="6"/>
<polygon points="299.6,763 307.4,763 303.5,770" fill="none" stroke="#1c1c1c" stroke-width="1.95" stroke-linejoin="miter" stroke-miterlimit="6"/>
<polygon points="309.1,763 316.9,763 313,770" fill="none" stroke="#1c1c1c" stroke-width="1.95" stroke-linejoin="miter" stroke-miterlimit="6"/>
<polygon points="318.4,759.9 326.3,759.9 322.4,766.9" fill="none" stroke="#1c1c1c" stroke-width="1.95" stroke-linejoin="miter" stroke-miterlimit="6"/>
<polygon points="326.9,756.7 334.8,756.7 330.8,763.7" fill="none" stroke="#1c1c1c" stroke-width="1.95" stroke-linejoin="miter" stroke-miterlimit="6"/>
<polygon points="338.4,755.7 346.2,755.7 342.3,762.7" fill="none" stroke="#1c1c1c" stroke-width="1.95" stroke-linejoin="miter" stroke-miterlimit="6"/>
<polygon points="349.9,756.7 357.8,756.7 353.9,763.7" fill="none" stroke="#1c1c1c" stroke-width="1.95" stroke-linejoin="miter" stroke-miterlimit="6"/>
<polygon points="357.2,763 365.1,763 361.2,770" fill="none" stroke="#1c1c1c" stroke-width="1.95" stroke-linejoin="miter" stroke-miterlimit="6"/>
<polygon points="368.8,762 376.6,762 372.7,769" fill="none" stroke="#1c1c1c" stroke-width="1.95" stroke-linejoin="miter" stroke-miterlimit="6"/>
<polygon points="381.1,774.5 388.9,774.5 385,781.5" fill="none" stroke="#1c1c1c" stroke-width="1.95" stroke-linejoin="miter" stroke-miterlimit="6"/>
<polygon points="389.1,781.5 396.9,781.5 393,788.5" fill="none" stroke="#1c1c1c" stroke-width="1.95" stroke-linejoin="miter" stroke-miterlimit="6"/>
<polygon points="397.1,782 404.9,782 401,789" fill="none" stroke="#1c1c1c" stroke-width="1.95" stroke-linejoin="miter" stroke-miterlimit="6"/>
<polygon points="407.9,778.9 415.8,778.9 411.9,785.9" fill="none" stroke="#1c1c1c" stroke-width="1.95" stroke-linejoin="miter" stroke-miterlimit="6"/>
<polygon points="417.1,779.5 424.9,779.5 421,786.5" fill="none" stroke="#1c1c1c" stroke-width="1.95" stroke-linejoin="miter" stroke-miterlimit="6"/>
<polygon points="421.7,780.1 429.6,780.1 425.6,787.1" fill="none" stroke="#1c1c1c" stroke-width="1.95" stroke-linejoin="miter" stroke-miterlimit="6"/>
<polygon points="430.1,777.5 437.9,777.5 434,784.5" fill="none" stroke="#1c1c1c" stroke-width="1.95" stroke-linejoin="miter" stroke-miterlimit="6"/>
<polygon points="436.1,776.5 443.9,776.5 440,783.5" fill="none" stroke="#1c1c1c" stroke-width="1.95" stroke-linejoin="miter" stroke-miterlimit="6"/>
<polygon points="441.7,777.2 449.6,777.2 445.6,784.2" fill="none" stroke="#1c1c1c" stroke-width="1.95" stroke-linejoin="miter" stroke-miterlimit="6"/>
<polygon points="450.2,783.1 458.1,783.1 454.1,790.1" fill="none" stroke="#1c1c1c" stroke-width="1.95" stroke-linejoin="miter" stroke-miterlimit="6"/>
<polygon points="87,723.3 95,723.3 91,716.3" fill="none" stroke="#1c1c1c" stroke-width="1.95" stroke-linejoin="miter" stroke-miterlimit="6"/>
<polygon points="96.1,722.6 104,722.6 100.1,715.6" fill="none" stroke="#1c1c1c" stroke-width="1.95" stroke-linejoin="miter" stroke-miterlimit="6"/>
<polygon points="105.8,734.8 113.7,734.8 109.7,727.8" fill="none" stroke="#1c1c1c" stroke-width="1.95" stroke-linejoin="miter" stroke-miterlimit="6"/>
<polygon points="112.6,735.2 120.5,735.2 116.6,728.2" fill="none" stroke="#1c1c1c" stroke-width="1.95" stroke-linejoin="miter" stroke-miterlimit="6"/>
<polygon points="125.9,740.9 133.8,740.9 129.8,733.9" fill="none" stroke="#1c1c1c" stroke-width="1.95" stroke-linejoin="miter" stroke-miterlimit="6"/>
<polygon points="135.1,747.1 142.9,747.1 139,740.1" fill="none" stroke="#1c1c1c" stroke-width="1.95" stroke-linejoin="miter" stroke-miterlimit="6"/>
<polygon points="147.4,761.5 155.2,761.5 151.3,754.5" fill="none" stroke="#1c1c1c" stroke-width="1.95" stroke-linejoin="miter" stroke-miterlimit="6"/>
<polygon points="156.6,763.1 164.4,763.1 160.5,756.1" fill="none" stroke="#1c1c1c" stroke-width="1.95" stroke-linejoin="miter" stroke-miterlimit="6"/>
<polygon points="169.2,774.1 177.1,774.1 173.2,767.1" fill="none" stroke="#1c1c1c" stroke-width="1.95" stroke-linejoin="miter" stroke-miterlimit="6"/>
<polygon points="177.6,780.7 185.4,780.7 181.5,773.7" fill="none" stroke="#1c1c1c" stroke-width="1.95" stroke-linejoin="miter" stroke-miterlimit="6"/>
<polygon points="186.5,787.4 194.3,787.4 190.4,780.4" fill="none" stroke="#1c1c1c" stroke-width="1.95" stroke-linejoin="miter" stroke-miterlimit="6"/>
<polygon points="192.4,786.6 200.2,786.6 196.3,779.6" fill="none" stroke="#1c1c1c" stroke-width="1.95" stroke-linejoin="miter" stroke-miterlimit="6"/>
<polygon points="198.1,786.6 205.9,786.6 202,779.6" fill="none" stroke="#1c1c1c" stroke-width="1.95" stroke-linejoin="miter" stroke-miterlimit="6"/>
<polygon points="208.4,786.6 216.2,786.6 212.3,779.6" fill="none" stroke="#1c1c1c" stroke-width="1.95" stroke-linejoin="miter" stroke-miterlimit="6"/>
<polygon points="215.2,786.6 223,786.6 219.1,779.6" fill="none" stroke="#1c1c1c" stroke-width="1.95" stroke-linejoin="miter" stroke-miterlimit="6"/>
<polygon points="224.4,785.5 232.2,785.5 228.3,778.5" fill="none" stroke="#1c1c1c" stroke-width="1.95" stroke-linejoin="miter" stroke-miterlimit="6"/>
<polygon points="239.7,777.5 247.5,777.5 243.6,770.5" fill="none" stroke="#1c1c1c" stroke-width="1.95" stroke-linejoin="miter" stroke-miterlimit="6"/>
<polygon points="250.2,776.4 258.1,776.4 254.1,769.4" fill="none" stroke="#1c1c1c" stroke-width="1.95" stroke-linejoin="miter" stroke-miterlimit="6"/>
<polygon points="264.4,767.2 272.2,767.2 268.3,760.2" fill="none" stroke="#1c1c1c" stroke-width="1.95" stroke-linejoin="miter" stroke-miterlimit="6"/>
<polygon points="276.9,755.3 284.8,755.3 280.9,748.3" fill="none" stroke="#1c1c1c" stroke-width="1.95" stroke-linejoin="miter" stroke-miterlimit="6"/>
<polygon points="289.2,758.1 297.1,758.1 293.1,751.1" fill="none" stroke="#1c1c1c" stroke-width="1.95" stroke-linejoin="miter" stroke-miterlimit="6"/>
<polygon points="303.8,754.3 311.6,754.3 307.7,747.3" fill="none" stroke="#1c1c1c" stroke-width="1.95" stroke-linejoin="miter" stroke-miterlimit="6"/>
<polygon points="314.7,749.7 322.6,749.7 318.6,742.7" fill="none" stroke="#1c1c1c" stroke-width="1.95" stroke-linejoin="miter" stroke-miterlimit="6"/>
<polygon points="324.8,750.1 332.6,750.1 328.7,743.1" fill="none" stroke="#1c1c1c" stroke-width="1.95" stroke-linejoin="miter" stroke-miterlimit="6"/>
<polygon points="335.2,749.1 343.1,749.1 339.2,742.1" fill="none" stroke="#1c1c1c" stroke-width="1.95" stroke-linejoin="miter" stroke-miterlimit="6"/>
<polygon points="348.9,747 356.8,747 352.8,740" fill="none" stroke="#1c1c1c" stroke-width="1.95" stroke-linejoin="miter" stroke-miterlimit="6"/>
<polygon points="358.1,755.5 365.9,755.5 362,748.5" fill="none" stroke="#1c1c1c" stroke-width="1.95" stroke-linejoin="miter" stroke-miterlimit="6"/>
<polygon points="366.1,763.5 373.9,763.5 370,756.5" fill="none" stroke="#1c1c1c" stroke-width="1.95" stroke-linejoin="miter" stroke-miterlimit="6"/>
<polygon points="374.1,772.5 381.9,772.5 378,765.5" fill="none" stroke="#1c1c1c" stroke-width="1.95" stroke-linejoin="miter" stroke-miterlimit="6"/>
<polygon points="384.1,782.5 391.9,782.5 388,775.5" fill="none" stroke="#1c1c1c" stroke-width="1.95" stroke-linejoin="miter" stroke-miterlimit="6"/>
<polygon points="392.1,776.5 399.9,776.5 396,769.5" fill="none" stroke="#1c1c1c" stroke-width="1.95" stroke-linejoin="miter" stroke-miterlimit="6"/>
<polygon points="397.4,769.5 405.2,769.5 401.3,762.5" fill="none" stroke="#1c1c1c" stroke-width="1.95" stroke-linejoin="miter" stroke-miterlimit="6"/>
<polygon points="406.1,742.7 413.9,742.7 410,735.7" fill="none" stroke="#1c1c1c" stroke-width="1.95" stroke-linejoin="miter" stroke-miterlimit="6"/>
<polygon points="414.6,746 422.4,746 418.5,739" fill="none" stroke="#1c1c1c" stroke-width="1.95" stroke-linejoin="miter" stroke-miterlimit="6"/>
<polygon points="417.9,758.5 425.8,758.5 421.8,751.5" fill="none" stroke="#1c1c1c" stroke-width="1.95" stroke-linejoin="miter" stroke-miterlimit="6"/>
<polygon points="422.8,769.4 430.6,769.4 426.7,762.4" fill="none" stroke="#1c1c1c" stroke-width="1.95" stroke-linejoin="miter" stroke-miterlimit="6"/>
<polygon points="430.1,774.5 437.9,774.5 434,767.5" fill="none" stroke="#1c1c1c" stroke-width="1.95" stroke-linejoin="miter" stroke-miterlimit="6"/>
<polygon points="437.1,776.5 444.9,776.5 441,769.5" fill="none" stroke="#1c1c1c" stroke-width="1.95" stroke-linejoin="miter" stroke-miterlimit="6"/>
<polygon points="445.1,776 452.9,776 449,769" fill="none" stroke="#1c1c1c" stroke-width="1.95" stroke-linejoin="miter" stroke-miterlimit="6"/>
<polygon points="450.1,775.1 457.9,775.1 454,768.1" fill="none" stroke="#1c1c1c" stroke-width="1.95" stroke-linejoin="miter" stroke-miterlimit="6"/>
<polygon points="91.4,735.2 92.6,738.7 96.3,738.8 93.4,741 94.5,744.6 91.4,742.5 88.3,744.6 89.4,741 86.5,738.8 90.2,738.7" fill="#626262" stroke="#626262" stroke-width="1.0" stroke-linejoin="miter" stroke-miterlimit="6"/>
<polygon points="97,735.8 98.2,739.3 101.9,739.4 99,741.6 100.1,745.2 97,743.1 93.9,745.2 95,741.6 92.1,739.4 95.8,739.3" fill="#626262" stroke="#626262" stroke-width="1.0" stroke-linejoin="miter" stroke-miterlimit="6"/>
<polygon points="103,756.8 104.2,760.3 107.9,760.4 105,762.6 106.1,766.2 103,764.1 99.9,766.2 101,762.6 98.1,760.4 101.8,760.3" fill="#626262" stroke="#626262" stroke-width="1.0" stroke-linejoin="miter" stroke-miterlimit="6"/>
<polygon points="111,774.1 112.2,777.6 115.9,777.7 113,779.9 114.1,783.5 111,781.4 107.9,783.5 109,779.9 106.1,777.7 109.8,777.6" fill="#626262" stroke="#626262" stroke-width="1.0" stroke-linejoin="miter" stroke-miterlimit="6"/>
<polygon points="116.5,774.1 117.7,777.6 121.4,777.7 118.5,779.9 119.6,783.5 116.5,781.4 113.4,783.5 114.5,779.9 111.6,777.7 115.3,777.6" fill="#626262" stroke="#626262" stroke-width="1.0" stroke-linejoin="miter" stroke-miterlimit="6"/>
<polygon points="125.7,761.8 126.9,765.3 130.6,765.4 127.7,767.6 128.8,771.2 125.7,769.1 122.6,771.2 123.7,767.6 120.8,765.4 124.5,765.3" fill="#626262" stroke="#626262" stroke-width="1.0" stroke-linejoin="miter" stroke-miterlimit="6"/>
<polygon points="133,750.5 134.2,754 137.9,754.1 135,756.3 136.1,759.9 133,757.8 129.9,759.9 131,756.3 128.1,754.1 131.8,754" fill="#626262" stroke="#626262" stroke-width="1.0" stroke-linejoin="miter" stroke-miterlimit="6"/>
<polygon points="140,732.2 141.2,735.7 144.9,735.8 142,738 143.1,741.6 140,739.5 136.9,741.6 138,738 135.1,735.8 138.8,735.7" fill="#626262" stroke="#626262" stroke-width="1.0" stroke-linejoin="miter" stroke-miterlimit="6"/>
<polygon points="146.3,721.8 147.5,725.3 151.2,725.4 148.3,727.6 149.4,731.2 146.3,729.1 143.2,731.2 144.3,727.6 141.4,725.4 145.1,725.3" fill="#626262" stroke="#626262" stroke-width="1.0" stroke-linejoin="miter" stroke-miterlimit="6"/>
<polygon points="154.3,710.5 155.5,714 159.2,714.1 156.3,716.3 157.4,719.9 154.3,717.8 151.2,719.9 152.3,716.3 149.4,714.1 153.1,714" fill="#626262" stroke="#626262" stroke-width="1.0" stroke-linejoin="miter" stroke-miterlimit="6"/>
<polygon points="161.6,712.8 162.8,716.3 166.5,716.4 163.6,718.6 164.7,722.2 161.6,720.1 158.5,722.2 159.6,718.6 156.7,716.4 160.4,716.3" fill="#626262" stroke="#626262" stroke-width="1.0" stroke-linejoin="miter" stroke-miterlimit="6"/>
<polygon points="171.3,719.7 172.5,723.2 176.2,723.3 173.3,725.5 174.4,729.1 171.3,727 168.2,729.1 169.3,725.5 166.4,723.3 170.1,723.2" fill="#626262" stroke="#626262" stroke-width="1.0" stroke-linejoin="miter" stroke-miterlimit="6"/>
<polygon points="183,725.8 184.2,729.3 187.9,729.4 185,731.6 186.1,735.2 183,733.1 179.9,735.2 181,731.6 178.1,729.4 181.8,729.3" fill="#626262" stroke="#626262" stroke-width="1.0" stroke-linejoin="miter" stroke-miterlimit="6"/>
<polygon points="190,729.8 191.2,733.3 194.9,733.4 192,735.6 193.1,739.2 190,737.1 186.9,739.2 188,735.6 185.1,733.4 188.8,733.3" fill="#626262" stroke="#626262" stroke-width="1.0" stroke-linejoin="miter" stroke-miterlimit="6"/>
<polygon points="197,730.3 198.2,733.8 201.9,733.9 199,736.1 200.1,739.7 197,737.6 193.9,739.7 195,736.1 192.1,733.9 195.8,733.8" fill="#626262" stroke="#626262" stroke-width="1.0" stroke-linejoin="miter" stroke-miterlimit="6"/>
<polygon points="204.3,737.9 205.5,741.4 209.2,741.5 206.3,743.7 207.4,747.3 204.3,745.2 201.2,747.3 202.3,743.7 199.4,741.5 203.1,741.4" fill="#626262" stroke="#626262" stroke-width="1.0" stroke-linejoin="miter" stroke-miterlimit="6"/>
<polygon points="212.3,749.4 213.5,752.9 217.2,753 214.3,755.2 215.4,758.8 212.3,756.7 209.2,758.8 210.3,755.2 207.4,753 211.1,752.9" fill="#626262" stroke="#626262" stroke-width="1.0" stroke-linejoin="miter" stroke-miterlimit="6"/>
<polygon points="223,757.4 224.2,760.9 227.9,761 225,763.2 226.1,766.8 223,764.7 219.9,766.8 221,763.2 218.1,761 221.8,760.9" fill="#626262" stroke="#626262" stroke-width="1.0" stroke-linejoin="miter" stroke-miterlimit="6"/>
<polygon points="231.7,761.3 232.9,764.8 236.6,764.9 233.7,767.1 234.8,770.7 231.7,768.6 228.6,770.7 229.7,767.1 226.8,764.9 230.5,764.8" fill="#626262" stroke="#626262" stroke-width="1.0" stroke-linejoin="miter" stroke-miterlimit="6"/>
<polygon points="248.9,749.4 250.1,752.9 253.8,753 250.9,755.2 252,758.8 248.9,756.7 245.8,758.8 246.9,755.2 244,753 247.7,752.9" fill="#626262" stroke="#626262" stroke-width="1.0" stroke-linejoin="miter" stroke-miterlimit="6"/>
<polygon points="260.3,744.3 261.5,747.8 265.2,747.9 262.3,750.1 263.4,753.7 260.3,751.6 257.2,753.7 258.3,750.1 255.4,747.9 259.1,747.8" fill="#626262" stroke="#626262" stroke-width="1.0" stroke-linejoin="miter" stroke-miterlimit="6"/>
<polygon points="270.6,729.9 271.8,733.4 275.5,733.5 272.6,735.7 273.7,739.3 270.6,737.2 267.5,739.3 268.6,735.7 265.7,733.5 269.4,733.4" fill="#626262" stroke="#626262" stroke-width="1.0" stroke-linejoin="miter" stroke-miterlimit="6"/>
<polygon points="279.4,725.7 280.6,729.2 284.3,729.3 281.4,731.5 282.5,735.1 279.4,733 276.3,735.1 277.4,731.5 274.5,729.3 278.2,729.2" fill="#626262" stroke="#626262" stroke-width="1.0" stroke-linejoin="miter" stroke-miterlimit="6"/>
<polygon points="287.8,720.4 289,723.9 292.7,724 289.8,726.2 290.9,729.8 287.8,727.7 284.7,729.8 285.8,726.2 282.9,724 286.6,723.9" fill="#626262" stroke="#626262" stroke-width="1.0" stroke-linejoin="miter" stroke-miterlimit="6"/>
<polygon points="292,721.5 293.2,725 296.9,725.1 294,727.3 295.1,730.9 292,728.8 288.9,730.9 290,727.3 287.1,725.1 290.8,725" fill="#626262" stroke="#626262" stroke-width="1.0" stroke-linejoin="miter" stroke-miterlimit="6"/>
<polygon points="306.7,724.6 307.9,728.1 311.6,728.2 308.7,730.4 309.8,734 306.7,731.9 303.6,734 304.7,730.4 301.8,728.2 305.5,728.1" fill="#626262" stroke="#626262" stroke-width="1.0" stroke-linejoin="miter" stroke-miterlimit="6"/>
<polygon points="320.3,729.9 321.5,733.4 325.2,733.5 322.3,735.7 323.4,739.3 320.3,737.2 317.2,739.3 318.3,735.7 315.4,733.5 319.1,733.4" fill="#626262" stroke="#626262" stroke-width="1.0" stroke-linejoin="miter" stroke-miterlimit="6"/>
<polygon points="331.8,728.8 333,732.3 336.7,732.4 333.8,734.6 334.9,738.2 331.8,736.1 328.7,738.2 329.8,734.6 326.9,732.4 330.6,732.3" fill="#626262" stroke="#626262" stroke-width="1.0" stroke-linejoin="miter" stroke-miterlimit="6"/>
<polygon points="342.3,725.7 343.5,729.2 347.2,729.3 344.3,731.5 345.4,735.1 342.3,733 339.2,735.1 340.3,731.5 337.4,729.3 341.1,729.2" fill="#626262" stroke="#626262" stroke-width="1.0" stroke-linejoin="miter" stroke-miterlimit="6"/>
<polygon points="349.7,726.7 350.9,730.2 354.6,730.3 351.7,732.5 352.8,736.1 349.7,734 346.6,736.1 347.7,732.5 344.8,730.3 348.5,730.2" fill="#626262" stroke="#626262" stroke-width="1.0" stroke-linejoin="miter" stroke-miterlimit="6"/>
<polygon points="353.9,733 355.1,736.5 358.8,736.6 355.9,738.8 357,742.4 353.9,740.3 350.8,742.4 351.9,738.8 349,736.6 352.7,736.5" fill="#626262" stroke="#626262" stroke-width="1.0" stroke-linejoin="miter" stroke-miterlimit="6"/>
<polygon points="360.1,737.2 361.3,740.7 365,740.8 362.1,743 363.2,746.6 360.1,744.5 357,746.6 358.1,743 355.2,740.8 358.9,740.7" fill="#626262" stroke="#626262" stroke-width="1.0" stroke-linejoin="miter" stroke-miterlimit="6"/>
<polygon points="367.5,745.6 368.7,749.1 372.4,749.2 369.5,751.4 370.6,755 367.5,752.9 364.4,755 365.5,751.4 362.6,749.2 366.3,749.1" fill="#626262" stroke="#626262" stroke-width="1.0" stroke-linejoin="miter" stroke-miterlimit="6"/>
<polygon points="375.7,755.6 376.9,759.1 380.6,759.2 377.7,761.4 378.8,765 375.7,762.9 372.6,765 373.7,761.4 370.8,759.2 374.5,759.1" fill="#626262" stroke="#626262" stroke-width="1.0" stroke-linejoin="miter" stroke-miterlimit="6"/>
<polygon points="385.2,775.5 386.4,779 390.1,779.1 387.2,781.3 388.3,784.9 385.2,782.8 382.1,784.9 383.2,781.3 380.3,779.1 384,779" fill="#626262" stroke="#626262" stroke-width="1.0" stroke-linejoin="miter" stroke-miterlimit="6"/>
<polygon points="395.6,764 396.8,767.5 400.5,767.6 397.6,769.8 398.7,773.4 395.6,771.3 392.5,773.4 393.6,769.8 390.7,767.6 394.4,767.5" fill="#626262" stroke="#626262" stroke-width="1.0" stroke-linejoin="miter" stroke-miterlimit="6"/>
<polygon points="401.9,758.7 403.1,762.2 406.8,762.3 403.9,764.5 405,768.1 401.9,766 398.8,768.1 399.9,764.5 397,762.3 400.7,762.2" fill="#626262" stroke="#626262" stroke-width="1.0" stroke-linejoin="miter" stroke-miterlimit="6"/>
<polygon points="408.2,759.8 409.4,763.3 413.1,763.4 410.2,765.6 411.3,769.2 408.2,767.1 405.1,769.2 406.2,765.6 403.3,763.4 407,763.3" fill="#626262" stroke="#626262" stroke-width="1.0" stroke-linejoin="miter" stroke-miterlimit="6"/>
<polygon points="418.7,767.1 419.9,770.6 423.6,770.7 420.7,772.9 421.8,776.5 418.7,774.4 415.6,776.5 416.7,772.9 413.8,770.7 417.5,770.6" fill="#626262" stroke="#626262" stroke-width="1.0" stroke-linejoin="miter" stroke-miterlimit="6"/>
<polygon points="428.1,752.5 429.3,756 433,756.1 430.1,758.3 431.2,761.9 428.1,759.8 425,761.9 426.1,758.3 423.2,756.1 426.9,756" fill="#626262" stroke="#626262" stroke-width="1.0" stroke-linejoin="miter" stroke-miterlimit="6"/>
<polygon points="433.4,728.3 434.6,731.8 438.3,731.9 435.4,734.1 436.5,737.7 433.4,735.6 430.3,737.7 431.4,734.1 428.5,731.9 432.2,731.8" fill="#626262" stroke="#626262" stroke-width="1.0" stroke-linejoin="miter" stroke-miterlimit="6"/>
<polygon points="443.9,742 445.1,745.5 448.8,745.6 445.9,747.8 447,751.4 443.9,749.3 440.8,751.4 441.9,747.8 439,745.6 442.7,745.5" fill="#626262" stroke="#626262" stroke-width="1.0" stroke-linejoin="miter" stroke-miterlimit="6"/>
<polygon points="450.1,750.4 451.3,753.9 455,754 452.1,756.2 453.2,759.8 450.1,757.7 447,759.8 448.1,756.2 445.2,754 448.9,753.9" fill="#626262" stroke="#626262" stroke-width="1.0" stroke-linejoin="miter" stroke-miterlimit="6"/>
<polygon points="453.3,747.2 454.5,750.7 458.2,750.8 455.3,753 456.4,756.6 453.3,754.5 450.2,756.6 451.3,753 448.4,750.8 452.1,750.7" fill="#626262" stroke="#626262" stroke-width="1.0" stroke-linejoin="miter" stroke-miterlimit="6"/>
<polygon points="91.4,735.8 92.5,737.7 94.8,737.8 93.7,739.7 94.8,741.7 92.5,741.7 91.4,743.6 90.3,741.7 88,741.7 89.1,739.7 88,737.8 90.3,737.7" fill="#c4c4c4" stroke="#626262" stroke-width="1.8" stroke-linejoin="miter" stroke-miterlimit="6"/>
<polygon points="102.9,737 104,738.9 106.3,738.9 105.2,740.9 106.3,742.9 104,742.9 102.9,744.8 101.8,742.9 99.5,742.9 100.6,740.9 99.5,738.9 101.8,738.9" fill="#c4c4c4" stroke="#626262" stroke-width="1.8" stroke-linejoin="miter" stroke-miterlimit="6"/>
<polygon points="114.3,741.5 115.4,743.4 117.7,743.4 116.6,745.4 117.7,747.4 115.4,747.4 114.3,749.3 113.2,747.4 110.9,747.4 112,745.4 110.9,743.4 113.2,743.4" fill="#c4c4c4" stroke="#626262" stroke-width="1.8" stroke-linejoin="miter" stroke-miterlimit="6"/>
<polygon points="120,745 121.1,746.9 123.4,746.9 122.3,748.9 123.4,750.9 121.1,750.9 120,752.8 118.9,750.9 116.6,750.9 117.7,748.9 116.6,746.9 118.9,746.9" fill="#c4c4c4" stroke="#626262" stroke-width="1.8" stroke-linejoin="miter" stroke-miterlimit="6"/>
<polygon points="125.7,745.6 126.8,747.5 129.1,747.5 128,749.5 129.1,751.5 126.8,751.5 125.7,753.4 124.6,751.5 122.3,751.5 123.4,749.5 122.3,747.5 124.6,747.5" fill="#c4c4c4" stroke="#626262" stroke-width="1.8" stroke-linejoin="miter" stroke-miterlimit="6"/>
<polygon points="140.6,746.1 141.7,748 144,748 142.9,750 144,752 141.7,752 140.6,753.9 139.5,752 137.2,752 138.3,750 137.2,748 139.5,748" fill="#c4c4c4" stroke="#626262" stroke-width="1.8" stroke-linejoin="miter" stroke-miterlimit="6"/>
<polygon points="150.9,747.9 152,749.8 154.3,749.8 153.2,751.8 154.3,753.8 152,753.8 150.9,755.7 149.8,753.8 147.5,753.8 148.6,751.8 147.5,749.8 149.8,749.8" fill="#c4c4c4" stroke="#626262" stroke-width="1.8" stroke-linejoin="miter" stroke-miterlimit="6"/>
<polygon points="160,746.6 161.1,748.5 163.4,748.5 162.3,750.5 163.4,752.5 161.1,752.5 160,754.4 158.9,752.5 156.6,752.5 157.7,750.5 156.6,748.5 158.9,748.5" fill="#c4c4c4" stroke="#626262" stroke-width="1.8" stroke-linejoin="miter" stroke-miterlimit="6"/>
<polygon points="176,739.2 177.1,741.1 179.4,741.1 178.3,743.1 179.4,745.1 177.1,745.1 176,747 174.9,745.1 172.6,745.1 173.7,743.1 172.6,741.1 174.9,741.1" fill="#c4c4c4" stroke="#626262" stroke-width="1.8" stroke-linejoin="miter" stroke-miterlimit="6"/>
<polygon points="187.4,733.1 188.5,735 190.8,735 189.7,737 190.8,739 188.5,739 187.4,740.9 186.3,739 184,739 185.1,737 184,735 186.3,735" fill="#c4c4c4" stroke="#626262" stroke-width="1.8" stroke-linejoin="miter" stroke-miterlimit="6"/>
<polygon points="196.5,729.6 197.6,731.5 199.9,731.5 198.8,733.5 199.9,735.5 197.6,735.5 196.5,737.4 195.4,735.5 193.1,735.5 194.2,733.5 193.1,731.5 195.4,731.5" fill="#c4c4c4" stroke="#626262" stroke-width="1.8" stroke-linejoin="miter" stroke-miterlimit="6"/>
<polygon points="210,732.4 211.1,734.3 213.4,734.3 212.3,736.3 213.4,738.2 211.1,738.3 210,740.2 208.9,738.3 206.6,738.2 207.7,736.3 206.6,734.3 208.9,734.3" fill="#c4c4c4" stroke="#626262" stroke-width="1.8" stroke-linejoin="miter" stroke-miterlimit="6"/>
<polygon points="223.7,733.5 224.8,735.4 227.1,735.4 226,737.4 227.1,739.4 224.8,739.4 223.7,741.3 222.6,739.4 220.3,739.4 221.4,737.4 220.3,735.4 222.6,735.4" fill="#c4c4c4" stroke="#626262" stroke-width="1.8" stroke-linejoin="miter" stroke-miterlimit="6"/>
<polygon points="230.6,734.2 231.7,736.1 234,736.1 232.9,738.1 234,740.1 231.7,740.1 230.6,742 229.5,740.1 227.2,740.1 228.3,738.1 227.2,736.1 229.5,736.1" fill="#c4c4c4" stroke="#626262" stroke-width="1.8" stroke-linejoin="miter" stroke-miterlimit="6"/>
<polygon points="238.6,735.8 239.7,737.7 242,737.8 240.9,739.7 242,741.7 239.7,741.7 238.6,743.6 237.5,741.7 235.2,741.7 236.3,739.7 235.2,737.8 237.5,737.7" fill="#c4c4c4" stroke="#626262" stroke-width="1.8" stroke-linejoin="miter" stroke-miterlimit="6"/>
<polygon points="245.4,727.8 246.5,729.7 248.8,729.8 247.7,731.7 248.8,733.7 246.5,733.7 245.4,735.6 244.3,733.7 242,733.7 243.1,731.7 242,729.8 244.3,729.7" fill="#c4c4c4" stroke="#626262" stroke-width="1.8" stroke-linejoin="miter" stroke-miterlimit="6"/>
<polygon points="251.1,726.7 252.2,728.6 254.5,728.6 253.4,730.6 254.5,732.6 252.2,732.6 251.1,734.5 250,732.6 247.7,732.6 248.8,730.6 247.7,728.6 250,728.6" fill="#c4c4c4" stroke="#626262" stroke-width="1.8" stroke-linejoin="miter" stroke-miterlimit="6"/>
<polygon points="258,726.7 259.1,728.6 261.4,728.6 260.3,730.6 261.4,732.6 259.1,732.6 258,734.5 256.9,732.6 254.6,732.6 255.7,730.6 254.6,728.6 256.9,728.6" fill="#c4c4c4" stroke="#626262" stroke-width="1.8" stroke-linejoin="miter" stroke-miterlimit="6"/>
<polygon points="266,724.4 267.1,726.3 269.4,726.3 268.3,728.3 269.4,730.2 267.1,730.3 266,732.2 264.9,730.3 262.6,730.2 263.7,728.3 262.6,726.3 264.9,726.3" fill="#c4c4c4" stroke="#626262" stroke-width="1.8" stroke-linejoin="miter" stroke-miterlimit="6"/>
<polygon points="277.3,724.7 278.4,726.6 280.7,726.6 279.6,728.6 280.7,730.6 278.4,730.6 277.3,732.5 276.2,730.6 273.9,730.6 275,728.6 273.9,726.6 276.2,726.6" fill="#c4c4c4" stroke="#626262" stroke-width="1.8" stroke-linejoin="miter" stroke-miterlimit="6"/>
<polygon points="287.8,717.5 288.9,719.4 291.2,719.4 290.1,721.4 291.2,723.4 288.9,723.4 287.8,725.3 286.7,723.4 284.4,723.4 285.5,721.4 284.4,719.4 286.7,719.4" fill="#c4c4c4" stroke="#626262" stroke-width="1.8" stroke-linejoin="miter" stroke-miterlimit="6"/>
<polygon points="293.1,718.6 294.2,720.5 296.5,720.5 295.4,722.5 296.5,724.5 294.2,724.5 293.1,726.4 292,724.5 289.7,724.5 290.8,722.5 289.7,720.5 292,720.5" fill="#c4c4c4" stroke="#626262" stroke-width="1.8" stroke-linejoin="miter" stroke-miterlimit="6"/>
<polygon points="301.4,718.6 302.5,720.5 304.8,720.5 303.7,722.5 304.8,724.5 302.5,724.5 301.4,726.4 300.3,724.5 298,724.5 299.1,722.5 298,720.5 300.3,720.5" fill="#c4c4c4" stroke="#626262" stroke-width="1.8" stroke-linejoin="miter" stroke-miterlimit="6"/>
<polygon points="309.8,718.6 310.9,720.5 313.2,720.5 312.1,722.5 313.2,724.5 310.9,724.5 309.8,726.4 308.7,724.5 306.4,724.5 307.5,722.5 306.4,720.5 308.7,720.5" fill="#c4c4c4" stroke="#626262" stroke-width="1.8" stroke-linejoin="miter" stroke-miterlimit="6"/>
<polygon points="320.3,720.1 321.4,722 323.7,722 322.6,724 323.7,726 321.4,726 320.3,727.9 319.2,726 316.9,726 318,724 316.9,722 319.2,722" fill="#c4c4c4" stroke="#626262" stroke-width="1.8" stroke-linejoin="miter" stroke-miterlimit="6"/>
<polygon points="329.7,717.5 330.8,719.4 333.1,719.4 332,721.4 333.1,723.4 330.8,723.4 329.7,725.3 328.6,723.4 326.3,723.4 327.4,721.4 326.3,719.4 328.6,719.4" fill="#c4c4c4" stroke="#626262" stroke-width="1.8" stroke-linejoin="miter" stroke-miterlimit="6"/>
<polygon points="338.1,724.9 339.2,726.8 341.5,726.8 340.4,728.8 341.5,730.8 339.2,730.8 338.1,732.7 337,730.8 334.7,730.8 335.8,728.8 334.7,726.8 337,726.8" fill="#c4c4c4" stroke="#626262" stroke-width="1.8" stroke-linejoin="miter" stroke-miterlimit="6"/>
<polygon points="346.5,722.8 347.6,724.7 349.9,724.8 348.8,726.7 349.9,728.7 347.6,728.7 346.5,730.6 345.4,728.7 343.1,728.7 344.2,726.7 343.1,724.8 345.4,724.7" fill="#c4c4c4" stroke="#626262" stroke-width="1.8" stroke-linejoin="miter" stroke-miterlimit="6"/>
<polygon points="351.8,723.4 352.9,725.3 355.2,725.3 354.1,727.3 355.2,729.2 352.9,729.3 351.8,731.2 350.7,729.3 348.4,729.2 349.5,727.3 348.4,725.3 350.7,725.3" fill="#c4c4c4" stroke="#626262" stroke-width="1.8" stroke-linejoin="miter" stroke-miterlimit="6"/>
<polygon points="357,723.4 358.1,725.3 360.4,725.3 359.3,727.3 360.4,729.2 358.1,729.3 357,731.2 355.9,729.3 353.6,729.2 354.7,727.3 353.6,725.3 355.9,725.3" fill="#c4c4c4" stroke="#626262" stroke-width="1.8" stroke-linejoin="miter" stroke-miterlimit="6"/>
<polygon points="362.2,736.7 363.3,738.6 365.6,738.6 364.5,740.6 365.6,742.6 363.3,742.6 362.2,744.5 361.1,742.6 358.8,742.6 359.9,740.6 358.8,738.6 361.1,738.6" fill="#c4c4c4" stroke="#626262" stroke-width="1.8" stroke-linejoin="miter" stroke-miterlimit="6"/>
<polygon points="369.5,740.4 370.6,742.3 372.9,742.3 371.8,744.3 372.9,746.2 370.6,746.3 369.5,748.2 368.4,746.3 366.1,746.2 367.2,744.3 366.1,742.3 368.4,742.3" fill="#c4c4c4" stroke="#626262" stroke-width="1.8" stroke-linejoin="miter" stroke-miterlimit="6"/>
<polygon points="376.8,743.6 377.9,745.5 380.2,745.5 379.1,747.5 380.2,749.5 377.9,749.5 376.8,751.4 375.7,749.5 373.4,749.5 374.5,747.5 373.4,745.5 375.7,745.5" fill="#c4c4c4" stroke="#626262" stroke-width="1.8" stroke-linejoin="miter" stroke-miterlimit="6"/>
<polygon points="380,756.9 381.1,758.8 383.4,758.8 382.3,760.8 383.4,762.8 381.1,762.8 380,764.7 378.9,762.8 376.6,762.8 377.7,760.8 376.6,758.8 378.9,758.8" fill="#c4c4c4" stroke="#626262" stroke-width="1.8" stroke-linejoin="miter" stroke-miterlimit="6"/>
<polygon points="385.2,773.7 386.3,775.6 388.6,775.6 387.5,777.6 388.6,779.6 386.3,779.6 385.2,781.5 384.1,779.6 381.8,779.6 382.9,777.6 381.8,775.6 384.1,775.6" fill="#c4c4c4" stroke="#626262" stroke-width="1.8" stroke-linejoin="miter" stroke-miterlimit="6"/>
<polygon points="394.6,765.3 395.7,767.2 398,767.2 396.9,769.2 398,771.2 395.7,771.2 394.6,773.1 393.5,771.2 391.2,771.2 392.3,769.2 391.2,767.2 393.5,767.2" fill="#c4c4c4" stroke="#626262" stroke-width="1.8" stroke-linejoin="miter" stroke-miterlimit="6"/>
<polygon points="401.9,756.9 403,758.8 405.3,758.8 404.2,760.8 405.3,762.8 403,762.8 401.9,764.7 400.8,762.8 398.5,762.8 399.6,760.8 398.5,758.8 400.8,758.8" fill="#c4c4c4" stroke="#626262" stroke-width="1.8" stroke-linejoin="miter" stroke-miterlimit="6"/>
<polygon points="410.3,746.4 411.4,748.3 413.7,748.3 412.6,750.3 413.7,752.2 411.4,752.3 410.3,754.2 409.2,752.3 406.9,752.2 408,750.3 406.9,748.3 409.2,748.3" fill="#c4c4c4" stroke="#626262" stroke-width="1.8" stroke-linejoin="miter" stroke-miterlimit="6"/>
<polygon points="417.7,739.1 418.8,741 421.1,741 420,743 421.1,745 418.8,745 417.7,746.9 416.6,745 414.3,745 415.4,743 414.3,741 416.6,741" fill="#c4c4c4" stroke="#626262" stroke-width="1.8" stroke-linejoin="miter" stroke-miterlimit="6"/>
<polygon points="428.1,743.3 429.2,745.2 431.5,745.2 430.4,747.2 431.5,749.2 429.2,749.2 428.1,751.1 427,749.2 424.7,749.2 425.8,747.2 424.7,745.2 427,745.2" fill="#c4c4c4" stroke="#626262" stroke-width="1.8" stroke-linejoin="miter" stroke-miterlimit="6"/>
<polygon points="435.9,719.2 437,721.1 439.3,721.1 438.2,723.1 439.3,725.1 437,725.1 435.9,727 434.8,725.1 432.5,725.1 433.6,723.1 432.5,721.1 434.8,721.1" fill="#c4c4c4" stroke="#626262" stroke-width="1.8" stroke-linejoin="miter" stroke-miterlimit="6"/>
<polygon points="446,735.9 447.1,737.8 449.4,737.8 448.3,739.8 449.4,741.8 447.1,741.8 446,743.7 444.9,741.8 442.6,741.8 443.7,739.8 442.6,737.8 444.9,737.8" fill="#c4c4c4" stroke="#626262" stroke-width="1.8" stroke-linejoin="miter" stroke-miterlimit="6"/>
<polygon points="452.2,748.5 453.3,750.4 455.6,750.4 454.5,752.4 455.6,754.4 453.3,754.4 452.2,756.3 451.1,754.4 448.8,754.4 449.9,752.4 448.8,750.4 451.1,750.4" fill="#c4c4c4" stroke="#626262" stroke-width="1.8" stroke-linejoin="miter" stroke-miterlimit="6"/>
<rect x="350.6" y="435.6" width="165.6" height="96.2" fill="#fff" stroke="#b4b4b4" stroke-width="1"/>
<line x1="357.2" y1="445.5" x2="392.2" y2="445.5" stroke="#1c1c1c" stroke-width="1.75"/>
<text x="396.4" y="449.9" class="t l">10Hz (RMS=19.61%)</text>
<line x1="357.2" y1="460.9" x2="392.2" y2="460.9" stroke="#1c1c1c" stroke-width="1.75" stroke-dasharray="5 2.5"/>
<text x="396.4" y="465.6" class="t l">20Hz (RMS=13.48%)</text>
<line x1="357.2" y1="476.3" x2="392.2" y2="476.3" stroke="#1c1c1c" stroke-width="1.8" stroke-dasharray="1.6 1.3"/>
<text x="396.4" y="481.3" class="t l">30Hz (RMS=6.74%)</text>
<line x1="357.2" y1="491.8" x2="392.2" y2="491.8" stroke="#1c1c1c" stroke-width="1.75" stroke-dasharray="5 2.2 1.5 2.2"/>
<text x="396.4" y="496.9" class="t l">40Hz (RMS=4.62%)</text>
<line x1="357.2" y1="507.2" x2="392.2" y2="507.2" stroke="#626262" stroke-width="1.9"/>
<text x="396.4" y="512.6" class="t l">50Hz (RMS=6.1%)</text>
<line x1="357.2" y1="522.6" x2="392.2" y2="522.6" stroke="#626262" stroke-width="1.7" stroke-dasharray="5 2.5"/>
<text x="396.4" y="528.3" class="t l">60Hz (RMS=6.95%)</text>
<rect x="371.5" y="442.2" width="6.6" height="6.6" fill="none" stroke="#1c1c1c" stroke-width="1.6"/>
<polygon points="374.8,456.6 378.2,460.9 374.8,465.3 371.4,460.9" fill="none" stroke="#1c1c1c" stroke-width="1.6" stroke-linejoin="miter" stroke-miterlimit="6"/>
<polygon points="370.5,473.1 379.1,473.1 374.8,480.1" fill="none" stroke="#1c1c1c" stroke-width="1.7" stroke-linejoin="miter" stroke-miterlimit="6"/>
<polygon points="370.4,494.4 379.2,494.4 374.8,487.4" fill="none" stroke="#1c1c1c" stroke-width="1.7" stroke-linejoin="miter" stroke-miterlimit="6"/>
<polygon points="374.8,502.3 376,505.9 379.8,505.9 376.8,508.2 377.9,511.9 374.8,509.7 371.7,511.9 372.8,508.2 369.8,505.9 373.6,505.9" fill="#626262" stroke="#626262" stroke-width="1.0" stroke-linejoin="miter" stroke-miterlimit="6"/>
<polygon points="374.8,519 375.8,520.8 377.9,520.8 376.9,522.6 377.9,524.4 375.8,524.4 374.8,526.2 373.8,524.4 371.7,524.4 372.7,522.6 371.7,520.8 373.8,520.8" fill="#626262" stroke="#626262" stroke-width="1.6" stroke-linejoin="miter" stroke-miterlimit="6"/>
<g stroke="#3a3a3a" stroke-width="1" fill="none"><line x1="48.5" y1="435.2" x2="48.5" y2="437.4"/><line x1="48.9" y1="785" x2="48.9" y2="786.6" stroke-width="1.8"/><line x1="62.6" y1="435.2" x2="62.6" y2="437.4"/><line x1="63" y1="785" x2="63" y2="786.6" stroke-width="1.8"/><line x1="74.9" y1="435.2" x2="74.9" y2="437.4"/><line x1="75.3" y1="785" x2="75.3" y2="786.6" stroke-width="1.8"/><line x1="85.7" y1="435.2" x2="85.7" y2="437.4"/><line x1="86.1" y1="785" x2="86.1" y2="786.6" stroke-width="1.8"/><line x1="95.3" y1="435" x2="95.3" y2="440" stroke-dasharray="1.6 1.2"/><line x1="95.3" y1="783" x2="95.3" y2="788" stroke-dasharray="1.6 1.2"/><line x1="159" y1="435.2" x2="159" y2="437.4"/><line x1="159.4" y1="785" x2="159.4" y2="786.6" stroke-width="1.8"/><line x1="196.2" y1="435.2" x2="196.2" y2="437.4"/><line x1="196.6" y1="785" x2="196.6" y2="786.6" stroke-width="1.8"/><line x1="222.6" y1="435.2" x2="222.6" y2="437.4"/><line x1="223" y1="785" x2="223" y2="786.6" stroke-width="1.8"/><line x1="243" y1="435.2" x2="243" y2="437.4"/><line x1="243.4" y1="785" x2="243.4" y2="786.6" stroke-width="1.8"/><line x1="259.8" y1="435.2" x2="259.8" y2="437.4"/><line x1="260.2" y1="785" x2="260.2" y2="786.6" stroke-width="1.8"/><line x1="273.9" y1="435.2" x2="273.9" y2="437.4"/><line x1="274.3" y1="785" x2="274.3" y2="786.6" stroke-width="1.8"/><line x1="286.2" y1="435.2" x2="286.2" y2="437.4"/><line x1="286.6" y1="785" x2="286.6" y2="786.6" stroke-width="1.8"/><line x1="297" y1="435.2" x2="297" y2="437.4"/><line x1="297.4" y1="785" x2="297.4" y2="786.6" stroke-width="1.8"/><line x1="306.6" y1="435" x2="306.6" y2="440" stroke-dasharray="1.6 1.2"/><line x1="306.6" y1="783" x2="306.6" y2="788" stroke-dasharray="1.6 1.2"/><line x1="370.3" y1="435.2" x2="370.3" y2="437.4"/><line x1="370.7" y1="785" x2="370.7" y2="786.6" stroke-width="1.8"/><line x1="407.5" y1="435.2" x2="407.5" y2="437.4"/><line x1="407.9" y1="785" x2="407.9" y2="786.6" stroke-width="1.8"/><line x1="433.9" y1="435.2" x2="433.9" y2="437.4"/><line x1="434.3" y1="785" x2="434.3" y2="786.6" stroke-width="1.8"/><line x1="454.3" y1="435.2" x2="454.3" y2="437.4"/><line x1="454.7" y1="785" x2="454.7" y2="786.6" stroke-width="1.8"/><line x1="471.1" y1="435.2" x2="471.1" y2="437.4"/><line x1="471.5" y1="785" x2="471.5" y2="786.6" stroke-width="1.8"/><line x1="485.2" y1="435.2" x2="485.2" y2="437.4"/><line x1="485.6" y1="785" x2="485.6" y2="786.6" stroke-width="1.8"/><line x1="497.5" y1="435.2" x2="497.5" y2="437.4"/><line x1="497.9" y1="785" x2="497.9" y2="786.6" stroke-width="1.8"/><line x1="508.3" y1="435.2" x2="508.3" y2="437.4"/><line x1="508.7" y1="785" x2="508.7" y2="786.6" stroke-width="1.8"/><line x1="518" y1="435" x2="518" y2="440" stroke-dasharray="1.6 1.2"/><line x1="518" y1="783" x2="518" y2="788" stroke-dasharray="1.6 1.2"/><line x1="36.5" y1="788" x2="39.1" y2="788"/><line x1="512.1" y1="788" x2="513.7" y2="788"/><line x1="517.3" y1="788" x2="518.7" y2="788"/><line x1="36.5" y1="752.7" x2="39.1" y2="752.7"/><line x1="512.1" y1="752.7" x2="513.7" y2="752.7"/><line x1="517.3" y1="752.7" x2="518.7" y2="752.7"/><line x1="36.5" y1="717.4" x2="39.1" y2="717.4"/><line x1="512.1" y1="717.4" x2="513.7" y2="717.4"/><line x1="517.3" y1="717.4" x2="518.7" y2="717.4"/><line x1="36.5" y1="682.1" x2="39.1" y2="682.1"/><line x1="512.1" y1="682.1" x2="513.7" y2="682.1"/><line x1="517.3" y1="682.1" x2="518.7" y2="682.1"/><line x1="36.5" y1="646.8" x2="39.1" y2="646.8"/><line x1="512.1" y1="646.8" x2="513.7" y2="646.8"/><line x1="517.3" y1="646.8" x2="518.7" y2="646.8"/><line x1="36.5" y1="611.5" x2="39.1" y2="611.5"/><line x1="512.1" y1="611.5" x2="513.7" y2="611.5"/><line x1="517.3" y1="611.5" x2="518.7" y2="611.5"/><line x1="36.5" y1="576.2" x2="39.1" y2="576.2"/><line x1="512.1" y1="576.2" x2="513.7" y2="576.2"/><line x1="517.3" y1="576.2" x2="518.7" y2="576.2"/><line x1="36.5" y1="540.9" x2="39.1" y2="540.9"/><line x1="512.1" y1="540.9" x2="513.7" y2="540.9"/><line x1="517.3" y1="540.9" x2="518.7" y2="540.9"/><line x1="36.5" y1="505.6" x2="39.1" y2="505.6"/><line x1="517.3" y1="505.6" x2="518.7" y2="505.6"/><line x1="36.5" y1="470.3" x2="39.1" y2="470.3"/><line x1="517.3" y1="470.3" x2="518.7" y2="470.3"/><line x1="36.5" y1="435" x2="39.1" y2="435"/><line x1="517.3" y1="435" x2="518.7" y2="435"/></g>
</g>
</svg>
</body>
</html>
